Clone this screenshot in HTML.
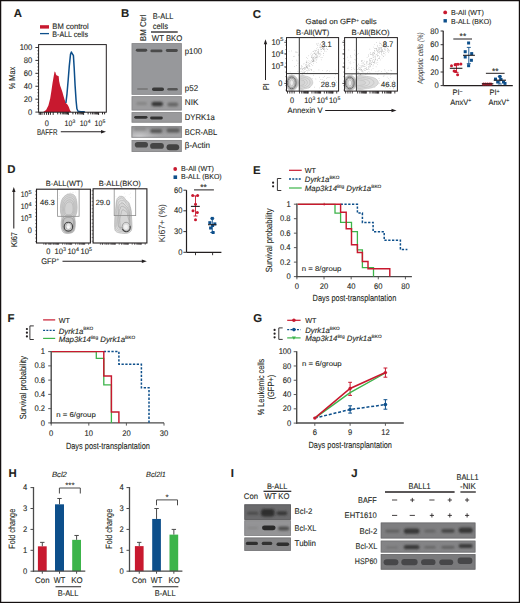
<!DOCTYPE html><html><head><meta charset="utf-8"><title>Figure</title><style>html,body{margin:0;padding:0;background:#fff;width:520px;height:603px;overflow:hidden;}svg{display:block;font-family:"Liberation Sans",sans-serif;}</style></head><body><svg width="520" height="603" viewBox="0 0 520 603" font-family="'Liberation Sans', sans-serif" fill="#231f20"><style>text{stroke:#231f20;stroke-width:0.1px;text-rendering:geometricPrecision;}</style><rect x="0.00" y="0.00" width="520.00" height="1.25" fill="#141010" />
<rect x="0.00" y="0.00" width="1.25" height="603.00" fill="#141010" />
<rect x="518.80" y="0.00" width="1.20" height="603.00" fill="#141010" />
<rect x="0.00" y="601.80" width="520.00" height="1.20" fill="#141010" />
<text x="0" y="0" font-size="11.40" font-weight="bold" transform="translate(13.80,16.70)" stroke="#231f20" stroke-width="0.35">A</text>
<rect x="40.00" y="25.20" width="9.00" height="3.40" fill="#c8192f" />
<line x1="40.00" y1="33.60" x2="49.00" y2="33.60" stroke="#0d4f8b" stroke-width="1.3" />
<text x="0" y="0" font-size="7.88" textLength="39.42" lengthAdjust="spacingAndGlyphs" transform="translate(52.30,29.00) scale(0.926,1)" >BM control</text>
<text x="0" y="0" font-size="7.88" textLength="38.56" lengthAdjust="spacingAndGlyphs" transform="translate(52.30,36.50) scale(0.926,1)" >B-ALL cells</text>
<path d="M43.2,112.1 L46.1,110.0 L48.4,105.4 L50.2,98.4 L51.3,91.4 L52.5,83.3 L53.7,76.3 L54.6,71.5 L55.4,72.3 L56.0,74.6 L56.8,75.4 L57.7,75.8 L58.7,76.3 L59.1,81.0 L60.1,85.6 L61.2,88.5 L62.4,92.0 L63.5,96.1 L64.7,100.1 L65.9,103.0 L67.6,104.8 L68.8,107.1 L69.9,110.0 L71.1,112.1 Z" fill="#c8192f"/>
<path d="M65.9,103.0 L67.0,93.8 L68.2,79.8 L69.3,65.9 L70.5,54.3 L71.4,52.0 L72.2,53.7 L73.4,55.4 L74.2,68.2 L75.1,85.6 L76.1,100.7 L76.9,108.8 L78.0,111.2 L80.9,111.7 L83.8,111.7 L85.0,112.1" fill="none" stroke="#0d4f8b" stroke-width="1.5" stroke-linejoin="round"/>
<rect x="38.60" y="44.60" width="67.70" height="67.60" fill="none" stroke="#231f20" stroke-width="1.0" />
<line x1="35.40" y1="112.10" x2="38.60" y2="112.10" stroke="#231f20" stroke-width="0.9" />
<text x="0" y="0" font-size="8.21" text-anchor="end" transform="translate(32.30,114.70) scale(0.926,1)" >0</text>
<line x1="35.40" y1="99.18" x2="38.60" y2="99.18" stroke="#231f20" stroke-width="0.9" />
<text x="0" y="0" font-size="8.21" text-anchor="end" transform="translate(32.30,101.78) scale(0.926,1)" >20</text>
<line x1="35.40" y1="86.26" x2="38.60" y2="86.26" stroke="#231f20" stroke-width="0.9" />
<text x="0" y="0" font-size="8.21" text-anchor="end" transform="translate(32.30,88.86) scale(0.926,1)" >40</text>
<line x1="35.40" y1="73.34" x2="38.60" y2="73.34" stroke="#231f20" stroke-width="0.9" />
<text x="0" y="0" font-size="8.21" text-anchor="end" transform="translate(32.30,75.94) scale(0.926,1)" >60</text>
<line x1="35.40" y1="60.42" x2="38.60" y2="60.42" stroke="#231f20" stroke-width="0.9" />
<text x="0" y="0" font-size="8.21" text-anchor="end" transform="translate(32.30,63.02) scale(0.926,1)" >80</text>
<line x1="35.40" y1="47.50" x2="38.60" y2="47.50" stroke="#231f20" stroke-width="0.9" />
<text x="0" y="0" font-size="8.21" text-anchor="end" transform="translate(32.30,50.10) scale(0.926,1)" >100</text>
<line x1="37.40" y1="108.87" x2="38.60" y2="108.87" stroke="#231f20" stroke-width="0.7" />
<line x1="37.40" y1="105.64" x2="38.60" y2="105.64" stroke="#231f20" stroke-width="0.7" />
<line x1="37.40" y1="102.41" x2="38.60" y2="102.41" stroke="#231f20" stroke-width="0.7" />
<line x1="37.40" y1="95.95" x2="38.60" y2="95.95" stroke="#231f20" stroke-width="0.7" />
<line x1="37.40" y1="92.72" x2="38.60" y2="92.72" stroke="#231f20" stroke-width="0.7" />
<line x1="37.40" y1="89.49" x2="38.60" y2="89.49" stroke="#231f20" stroke-width="0.7" />
<line x1="37.40" y1="83.03" x2="38.60" y2="83.03" stroke="#231f20" stroke-width="0.7" />
<line x1="37.40" y1="79.80" x2="38.60" y2="79.80" stroke="#231f20" stroke-width="0.7" />
<line x1="37.40" y1="76.57" x2="38.60" y2="76.57" stroke="#231f20" stroke-width="0.7" />
<line x1="37.40" y1="70.11" x2="38.60" y2="70.11" stroke="#231f20" stroke-width="0.7" />
<line x1="37.40" y1="66.88" x2="38.60" y2="66.88" stroke="#231f20" stroke-width="0.7" />
<line x1="37.40" y1="63.65" x2="38.60" y2="63.65" stroke="#231f20" stroke-width="0.7" />
<line x1="37.40" y1="57.19" x2="38.60" y2="57.19" stroke="#231f20" stroke-width="0.7" />
<line x1="37.40" y1="53.96" x2="38.60" y2="53.96" stroke="#231f20" stroke-width="0.7" />
<line x1="37.40" y1="50.73" x2="38.60" y2="50.73" stroke="#231f20" stroke-width="0.7" />
<line x1="39.20" y1="112.10" x2="39.20" y2="114.80" stroke="#231f20" stroke-width="1.0" />
<line x1="40.60" y1="112.10" x2="40.60" y2="114.80" stroke="#231f20" stroke-width="1.0" />
<line x1="42.00" y1="112.10" x2="42.00" y2="114.80" stroke="#231f20" stroke-width="1.0" />
<line x1="44.30" y1="112.10" x2="44.30" y2="114.80" stroke="#231f20" stroke-width="1.0" />
<line x1="46.60" y1="112.10" x2="46.60" y2="114.80" stroke="#231f20" stroke-width="1.0" />
<line x1="48.50" y1="112.10" x2="48.50" y2="114.80" stroke="#231f20" stroke-width="1.0" />
<line x1="50.40" y1="112.10" x2="50.40" y2="114.80" stroke="#231f20" stroke-width="1.0" />
<line x1="53.20" y1="112.10" x2="53.20" y2="114.90" stroke="#231f20" stroke-width="0.95" />
<line x1="57.72" y1="112.10" x2="57.72" y2="114.40" stroke="#231f20" stroke-width="0.95" />
<line x1="60.36" y1="112.10" x2="60.36" y2="114.40" stroke="#231f20" stroke-width="0.95" />
<line x1="62.23" y1="112.10" x2="62.23" y2="114.40" stroke="#231f20" stroke-width="0.95" />
<line x1="63.68" y1="112.10" x2="63.68" y2="114.40" stroke="#231f20" stroke-width="0.95" />
<line x1="64.87" y1="112.10" x2="64.87" y2="114.40" stroke="#231f20" stroke-width="0.95" />
<line x1="65.88" y1="112.10" x2="65.88" y2="114.40" stroke="#231f20" stroke-width="0.95" />
<line x1="66.75" y1="112.10" x2="66.75" y2="114.40" stroke="#231f20" stroke-width="0.95" />
<line x1="67.51" y1="112.10" x2="67.51" y2="114.40" stroke="#231f20" stroke-width="0.95" />
<line x1="68.40" y1="112.10" x2="68.40" y2="114.90" stroke="#231f20" stroke-width="0.95" />
<line x1="72.92" y1="112.10" x2="72.92" y2="114.40" stroke="#231f20" stroke-width="0.95" />
<line x1="75.56" y1="112.10" x2="75.56" y2="114.40" stroke="#231f20" stroke-width="0.95" />
<line x1="77.43" y1="112.10" x2="77.43" y2="114.40" stroke="#231f20" stroke-width="0.95" />
<line x1="78.88" y1="112.10" x2="78.88" y2="114.40" stroke="#231f20" stroke-width="0.95" />
<line x1="80.07" y1="112.10" x2="80.07" y2="114.40" stroke="#231f20" stroke-width="0.95" />
<line x1="81.08" y1="112.10" x2="81.08" y2="114.40" stroke="#231f20" stroke-width="0.95" />
<line x1="81.95" y1="112.10" x2="81.95" y2="114.40" stroke="#231f20" stroke-width="0.95" />
<line x1="82.71" y1="112.10" x2="82.71" y2="114.40" stroke="#231f20" stroke-width="0.95" />
<line x1="83.60" y1="112.10" x2="83.60" y2="114.90" stroke="#231f20" stroke-width="0.95" />
<line x1="88.12" y1="112.10" x2="88.12" y2="114.40" stroke="#231f20" stroke-width="0.95" />
<line x1="90.76" y1="112.10" x2="90.76" y2="114.40" stroke="#231f20" stroke-width="0.95" />
<line x1="92.63" y1="112.10" x2="92.63" y2="114.40" stroke="#231f20" stroke-width="0.95" />
<line x1="94.08" y1="112.10" x2="94.08" y2="114.40" stroke="#231f20" stroke-width="0.95" />
<line x1="95.27" y1="112.10" x2="95.27" y2="114.40" stroke="#231f20" stroke-width="0.95" />
<line x1="96.28" y1="112.10" x2="96.28" y2="114.40" stroke="#231f20" stroke-width="0.95" />
<line x1="97.15" y1="112.10" x2="97.15" y2="114.40" stroke="#231f20" stroke-width="0.95" />
<line x1="97.91" y1="112.10" x2="97.91" y2="114.40" stroke="#231f20" stroke-width="0.95" />
<line x1="98.60" y1="112.10" x2="98.60" y2="114.90" stroke="#231f20" stroke-width="1.0" />
<line x1="102.50" y1="112.10" x2="102.50" y2="114.40" stroke="#231f20" stroke-width="0.95" />
<line x1="104.60" y1="112.10" x2="104.60" y2="114.40" stroke="#231f20" stroke-width="0.95" />
<text x="0" y="0" font-size="7.99" text-anchor="middle" transform="translate(46.70,125.50) scale(0.926,1)" >0</text>
<text x="64.50" y="125.50" font-size="7.9" textLength="7.80" lengthAdjust="spacingAndGlyphs">10</text>
<text x="72.50" y="122.60" font-size="5.0">3</text>
<text x="79.70" y="125.50" font-size="7.9" textLength="7.80" lengthAdjust="spacingAndGlyphs">10</text>
<text x="87.70" y="122.60" font-size="5.0">4</text>
<text x="94.50" y="125.50" font-size="7.9" textLength="7.80" lengthAdjust="spacingAndGlyphs">10</text>
<text x="102.50" y="122.60" font-size="5.0">5</text>
<text x="0" y="0" font-size="8.42" textLength="22.14" lengthAdjust="spacingAndGlyphs" transform="translate(36.90,134.70) scale(0.926,1)" >BAFFR</text>
<line x1="60.80" y1="131.70" x2="103.00" y2="131.70" stroke="#231f20" stroke-width="1.05" />
<path d="M106.00,131.70 L101.00,130.00 L101.00,133.40 Z" fill="#231f20"/>
<text x="0" y="0" font-size="8.64" text-anchor="middle" textLength="24.41" lengthAdjust="spacingAndGlyphs" transform="translate(14.90,78.00) rotate(-90) scale(0.926,1)" >% Max</text>
<text x="0" y="0" font-size="11.40" font-weight="bold" transform="translate(121.00,16.50)" stroke="#231f20" stroke-width="0.35">B</text>
<text x="0" y="0" font-size="8.42" textLength="28.94" lengthAdjust="spacingAndGlyphs" transform="translate(145.60,41.20) rotate(-90) scale(0.926,1)" >BM Ctrl</text>
<text x="0" y="0" font-size="8.21" textLength="22.25" lengthAdjust="spacingAndGlyphs" transform="translate(152.80,19.20) scale(0.926,1)" >B-ALL</text>
<text x="0" y="0" font-size="8.21" textLength="16.42" lengthAdjust="spacingAndGlyphs" transform="translate(152.80,28.80) scale(0.926,1)" >cells</text>
<line x1="151.00" y1="32.00" x2="177.70" y2="32.00" stroke="#231f20" stroke-width="1.3" />
<text x="0" y="0" font-size="8.21" textLength="32.94" lengthAdjust="spacingAndGlyphs" transform="translate(151.80,41.20) scale(0.926,1)" >WT BKO</text>
<defs><filter id="bl" x="-50%" y="-80%" width="200%" height="260%"><feGaussianBlur stdDeviation="0.75"/></filter><filter id="bl2" x="-50%" y="-80%" width="200%" height="260%"><feGaussianBlur stdDeviation="1.0"/></filter><filter id="bl3" x="-20%" y="-40%" width="140%" height="180%"><feGaussianBlur stdDeviation="0.4"/></filter><filter id="bl4" x="-20%" y="-20%" width="140%" height="140%"><feGaussianBlur stdDeviation="2.0"/></filter></defs>
<rect x="131.70" y="43.20" width="50.00" height="51.50" fill="#97989b" />
<rect x="132.10" y="43.60" width="49.20" height="50.70" fill="none" stroke="#8a8a8d" stroke-width="0.8" />
<rect x="135.80" y="48.85" width="11.40" height="2.90" rx="1.45" fill="#464646" opacity="1.0" filter="url(#bl)"/>
<rect x="150.40" y="49.55" width="12.10" height="2.70" rx="1.35" fill="#4c4c4c" opacity="1.0" filter="url(#bl)"/>
<rect x="165.80" y="49.05" width="12.00" height="2.90" rx="1.45" fill="#484848" opacity="1.0" filter="url(#bl)"/>
<rect x="137.00" y="88.10" width="11.00" height="2.00" rx="1.00" fill="#7a7a7a" opacity="0.9" filter="url(#bl)"/>
<rect x="152.00" y="87.55" width="12.00" height="3.50" rx="1.75" fill="#383838" opacity="1.0" filter="url(#bl)"/>
<rect x="167.30" y="88.00" width="10.50" height="2.60" rx="1.30" fill="#555" opacity="1.0" filter="url(#bl)"/>
<rect x="131.70" y="96.30" width="50.00" height="14.10" fill="#9c9c9e" />
<rect x="132.10" y="96.70" width="49.20" height="13.30" fill="none" stroke="#8a8a8c" stroke-width="0.8" />
<rect x="136.30" y="102.00" width="10.70" height="3.00" rx="1.50" fill="#808080" opacity="0.8" filter="url(#bl2)"/>
<rect x="151.50" y="101.70" width="11.50" height="4.60" rx="2.30" fill="#383838" opacity="1.0" filter="url(#bl2)"/>
<rect x="167.40" y="102.60" width="10.90" height="3.80" rx="1.90" fill="#666" opacity="1.0" filter="url(#bl2)"/>
<rect x="131.70" y="112.20" width="50.00" height="10.40" fill="#9a9a9c" />
<rect x="132.10" y="112.60" width="49.20" height="9.60" fill="none" stroke="#8a8a8c" stroke-width="0.8" />
<rect x="134.20" y="115.90" width="13.30" height="2.80" rx="1.40" fill="#333" opacity="1.0" filter="url(#bl)"/>
<rect x="150.10" y="116.60" width="12.70" height="2.80" rx="1.40" fill="#333" opacity="1.0" filter="url(#bl)"/>
<rect x="131.70" y="126.30" width="50.00" height="11.30" fill="#a0a0a2" />
<rect x="132.10" y="126.70" width="49.20" height="10.50" fill="none" stroke="#8e8e90" stroke-width="0.8" />
<defs><radialGradient id="bcrg" cx="0.15" cy="1.0" r="0.55" gradientTransform="translate(0.15 1) scale(1 2.2) translate(-0.15 -1)"><stop offset="0" stop-color="#d4d4d6"/><stop offset="1" stop-color="#a0a0a2" stop-opacity="0"/></radialGradient><linearGradient id="bcrv" x1="0" y1="0" x2="0" y2="1"><stop offset="0" stop-color="#8f8f91"/><stop offset="1" stop-color="#a8a8aa"/></linearGradient></defs>
<rect x="131.70" y="126.30" width="50.00" height="11.30" fill="url(#bcrv)" />
<rect x="131.70" y="126.30" width="50.00" height="11.30" fill="url(#bcrg)" />
<rect x="132.10" y="126.70" width="49.20" height="10.50" fill="none" stroke="#8e8e90" stroke-width="0.8" />
<rect x="134.00" y="127.50" width="12.00" height="3.00" rx="1.50" fill="#808080" opacity="0.7" filter="url(#bl2)"/>
<rect x="150.10" y="129.10" width="12.20" height="3.80" rx="1.90" fill="#585858" opacity="1.0" filter="url(#bl2)"/>
<rect x="166.50" y="128.60" width="13.20" height="3.80" rx="1.90" fill="#5c5c5c" opacity="1.0" filter="url(#bl2)"/>
<rect x="131.70" y="140.00" width="50.00" height="12.00" fill="#9a9a9c" />
<rect x="132.10" y="140.40" width="49.20" height="11.20" fill="none" stroke="#8a8a8c" stroke-width="0.8" />
<rect x="134.80" y="142.00" width="13.20" height="5.60" rx="2.80" fill="#444" opacity="1.0" filter="url(#bl)"/>
<rect x="150.10" y="143.00" width="13.80" height="5.80" rx="2.90" fill="#444" opacity="1.0" filter="url(#bl)"/>
<rect x="166.50" y="144.20" width="12.70" height="6.00" rx="3.00" fill="#424242" opacity="1.0" filter="url(#bl)"/>
<text x="0" y="0" font-size="8.42" textLength="18.68" lengthAdjust="spacingAndGlyphs" transform="translate(184.80,53.70) scale(0.926,1)" >p100</text>
<text x="0" y="0" font-size="8.42" textLength="14.36" lengthAdjust="spacingAndGlyphs" transform="translate(184.80,91.20) scale(0.926,1)" >p52</text>
<text x="0" y="0" font-size="8.42" textLength="14.69" lengthAdjust="spacingAndGlyphs" transform="translate(184.80,105.00) scale(0.926,1)" >NIK</text>
<text x="0" y="0" font-size="8.42" textLength="32.40" lengthAdjust="spacingAndGlyphs" transform="translate(184.80,120.40) scale(0.926,1)" >DYRK1a</text>
<text x="0" y="0" font-size="8.42" textLength="34.88" lengthAdjust="spacingAndGlyphs" transform="translate(184.80,134.50) scale(0.926,1)" >BCR-ABL</text>
<text x="0" y="0" font-size="8.42" textLength="27.22" lengthAdjust="spacingAndGlyphs" transform="translate(184.80,148.10) scale(0.926,1)" >&#946;-Actin</text>
<text x="0" y="0" font-size="11.40" font-weight="bold" transform="translate(252.80,17.50)" stroke="#231f20" stroke-width="0.35">C</text>
<text x="0" y="0" font-size="7.50" textLength="71.10" lengthAdjust="spacingAndGlyphs" transform="translate(305.60,24.00)" >Gated on GFP<tspan font-size="4.4" dy="-2.4">+</tspan><tspan dy="2.4"> cells</tspan></text>
<text x="0" y="0" font-size="7.50" textLength="33.20" lengthAdjust="spacingAndGlyphs" transform="translate(296.10,34.70)" >B-All(WT)</text>
<text x="0" y="0" font-size="7.50" textLength="38.10" lengthAdjust="spacingAndGlyphs" transform="translate(351.50,34.70)" >B-All(BKO)</text>
<g fill="#9c9c9c"><circle cx="308.74" cy="55.87" r="0.33"/><circle cx="311.53" cy="57.67" r="0.33"/><circle cx="313.02" cy="57.05" r="0.33"/><circle cx="313.52" cy="57.30" r="0.33"/><circle cx="316.91" cy="55.04" r="0.33"/><circle cx="308.59" cy="62.86" r="0.33"/><circle cx="304.87" cy="71.36" r="0.33"/><circle cx="299.38" cy="69.92" r="0.33"/><circle cx="326.43" cy="48.81" r="0.33"/><circle cx="315.75" cy="54.66" r="0.33"/><circle cx="308.08" cy="70.14" r="0.33"/><circle cx="303.01" cy="71.80" r="0.33"/><circle cx="306.61" cy="67.04" r="0.33"/><circle cx="313.60" cy="59.55" r="0.33"/><circle cx="313.90" cy="60.88" r="0.33"/><circle cx="314.92" cy="52.87" r="0.33"/><circle cx="312.78" cy="57.20" r="0.33"/><circle cx="306.98" cy="62.73" r="0.33"/><circle cx="327.69" cy="49.29" r="0.33"/><circle cx="318.17" cy="52.82" r="0.33"/><circle cx="309.92" cy="63.42" r="0.33"/><circle cx="304.73" cy="72.57" r="0.33"/><circle cx="316.39" cy="48.83" r="0.33"/><circle cx="313.59" cy="63.15" r="0.33"/><circle cx="323.24" cy="47.00" r="0.33"/><circle cx="307.04" cy="66.36" r="0.33"/><circle cx="316.91" cy="43.42" r="0.33"/><circle cx="312.65" cy="61.82" r="0.33"/><circle cx="300.90" cy="69.06" r="0.33"/><circle cx="306.15" cy="62.44" r="0.33"/><circle cx="301.17" cy="68.38" r="0.33"/><circle cx="323.66" cy="55.47" r="0.33"/><circle cx="304.61" cy="69.44" r="0.33"/><circle cx="303.69" cy="72.37" r="0.33"/><circle cx="321.16" cy="51.70" r="0.33"/><circle cx="315.00" cy="61.51" r="0.33"/><circle cx="306.48" cy="66.90" r="0.33"/><circle cx="315.93" cy="53.60" r="0.33"/><circle cx="303.36" cy="68.45" r="0.33"/><circle cx="309.25" cy="65.13" r="0.33"/><circle cx="323.99" cy="47.14" r="0.33"/><circle cx="320.22" cy="47.31" r="0.33"/><circle cx="304.10" cy="63.76" r="0.33"/><circle cx="319.28" cy="56.59" r="0.33"/><circle cx="305.41" cy="71.22" r="0.33"/><circle cx="308.23" cy="64.84" r="0.33"/><circle cx="318.80" cy="50.66" r="0.33"/><circle cx="304.67" cy="72.31" r="0.33"/><circle cx="302.49" cy="69.33" r="0.33"/><circle cx="315.35" cy="54.94" r="0.33"/><circle cx="306.32" cy="57.55" r="0.33"/><circle cx="314.99" cy="59.84" r="0.33"/><circle cx="316.34" cy="56.96" r="0.33"/><circle cx="304.69" cy="67.39" r="0.33"/><circle cx="322.86" cy="48.64" r="0.33"/><circle cx="305.23" cy="65.87" r="0.33"/><circle cx="320.12" cy="53.18" r="0.33"/><circle cx="322.58" cy="46.74" r="0.33"/><circle cx="320.12" cy="47.32" r="0.33"/><circle cx="302.94" cy="68.86" r="0.33"/><circle cx="303.46" cy="73.69" r="0.33"/><circle cx="317.88" cy="52.70" r="0.33"/><circle cx="309.47" cy="65.97" r="0.33"/><circle cx="306.84" cy="61.84" r="0.33"/><circle cx="306.05" cy="67.38" r="0.33"/><circle cx="306.85" cy="65.20" r="0.33"/><circle cx="316.81" cy="58.03" r="0.33"/><circle cx="306.71" cy="62.40" r="0.33"/><circle cx="322.52" cy="48.00" r="0.33"/><circle cx="308.94" cy="64.89" r="0.33"/><circle cx="313.84" cy="60.59" r="0.33"/><circle cx="311.42" cy="62.11" r="0.33"/><circle cx="316.71" cy="57.39" r="0.33"/><circle cx="323.27" cy="49.70" r="0.33"/><circle cx="321.98" cy="45.02" r="0.33"/><circle cx="313.23" cy="53.83" r="0.33"/><circle cx="305.59" cy="68.97" r="0.33"/><circle cx="322.36" cy="48.14" r="0.33"/><circle cx="318.53" cy="53.42" r="0.33"/><circle cx="316.71" cy="54.60" r="0.33"/><circle cx="313.31" cy="58.46" r="0.33"/><circle cx="322.29" cy="44.54" r="0.33"/><circle cx="300.24" cy="68.34" r="0.33"/><circle cx="321.18" cy="47.52" r="0.33"/><circle cx="317.87" cy="51.33" r="0.33"/><circle cx="319.06" cy="45.09" r="0.33"/><circle cx="308.91" cy="60.76" r="0.33"/><circle cx="317.67" cy="45.65" r="0.33"/><circle cx="313.06" cy="61.24" r="0.33"/><circle cx="311.71" cy="53.02" r="0.33"/><circle cx="314.67" cy="53.31" r="0.33"/><circle cx="317.97" cy="56.88" r="0.33"/><circle cx="299.50" cy="67.38" r="0.33"/><circle cx="316.95" cy="44.68" r="0.33"/><circle cx="316.26" cy="50.30" r="0.33"/><circle cx="317.70" cy="57.85" r="0.33"/><circle cx="313.03" cy="60.13" r="0.33"/><circle cx="318.44" cy="51.27" r="0.33"/><circle cx="299.93" cy="71.32" r="0.33"/><circle cx="306.29" cy="64.62" r="0.33"/><circle cx="315.39" cy="50.81" r="0.33"/><circle cx="322.53" cy="47.88" r="0.33"/><circle cx="309.91" cy="66.42" r="0.33"/><circle cx="317.79" cy="53.74" r="0.33"/><circle cx="308.96" cy="68.40" r="0.33"/><circle cx="321.01" cy="57.30" r="0.33"/><circle cx="313.98" cy="60.89" r="0.33"/><circle cx="316.33" cy="53.00" r="0.33"/><circle cx="303.60" cy="63.98" r="0.33"/><circle cx="323.84" cy="49.27" r="0.33"/><circle cx="319.77" cy="47.10" r="0.33"/><circle cx="311.45" cy="64.69" r="0.33"/><circle cx="301.39" cy="65.58" r="0.33"/><circle cx="321.17" cy="49.59" r="0.33"/><circle cx="319.84" cy="54.12" r="0.33"/><circle cx="305.53" cy="67.28" r="0.33"/><circle cx="312.61" cy="59.30" r="0.33"/><circle cx="313.34" cy="61.63" r="0.33"/><circle cx="314.89" cy="53.47" r="0.33"/><circle cx="320.96" cy="49.80" r="0.33"/><circle cx="322.92" cy="45.78" r="0.33"/><circle cx="302.02" cy="73.00" r="0.33"/><circle cx="324.52" cy="51.51" r="0.33"/><circle cx="316.22" cy="57.03" r="0.33"/><circle cx="309.66" cy="63.51" r="0.33"/><circle cx="304.73" cy="68.49" r="0.33"/><circle cx="316.54" cy="62.51" r="0.33"/><circle cx="308.37" cy="66.04" r="0.33"/><circle cx="307.87" cy="70.92" r="0.33"/><circle cx="313.53" cy="60.29" r="0.33"/><circle cx="314.69" cy="53.12" r="0.33"/><circle cx="320.28" cy="44.42" r="0.33"/><circle cx="318.49" cy="54.08" r="0.33"/><circle cx="308.38" cy="69.21" r="0.33"/><circle cx="297.89" cy="71.20" r="0.33"/><circle cx="306.82" cy="67.84" r="0.33"/><circle cx="306.97" cy="63.02" r="0.33"/><circle cx="316.84" cy="59.79" r="0.33"/><circle cx="316.43" cy="55.29" r="0.33"/><circle cx="318.02" cy="49.18" r="0.33"/><circle cx="326.07" cy="51.52" r="0.33"/><circle cx="320.93" cy="54.60" r="0.33"/><circle cx="302.31" cy="66.74" r="0.33"/><circle cx="323.06" cy="48.76" r="0.33"/><circle cx="307.51" cy="58.34" r="0.33"/><circle cx="318.38" cy="49.30" r="0.33"/><circle cx="320.18" cy="44.89" r="0.33"/><circle cx="307.61" cy="67.11" r="0.33"/><circle cx="319.73" cy="53.57" r="0.33"/><circle cx="315.94" cy="50.47" r="0.33"/><circle cx="311.61" cy="70.13" r="0.33"/><circle cx="320.35" cy="43.73" r="0.33"/><circle cx="315.15" cy="57.59" r="0.33"/><circle cx="320.62" cy="46.64" r="0.33"/><circle cx="320.75" cy="48.94" r="0.33"/><circle cx="313.27" cy="60.32" r="0.33"/><circle cx="315.25" cy="57.09" r="0.33"/><circle cx="299.43" cy="71.00" r="0.33"/><circle cx="323.52" cy="53.25" r="0.33"/><circle cx="307.49" cy="68.76" r="0.33"/><circle cx="310.43" cy="62.90" r="0.33"/><circle cx="304.42" cy="67.47" r="0.33"/><circle cx="313.65" cy="57.21" r="0.33"/><circle cx="314.22" cy="50.17" r="0.33"/><circle cx="318.21" cy="43.13" r="0.33"/><circle cx="303.85" cy="70.77" r="0.33"/><circle cx="305.80" cy="64.66" r="0.33"/><circle cx="318.43" cy="52.16" r="0.33"/><circle cx="313.14" cy="51.39" r="0.33"/><circle cx="314.67" cy="56.15" r="0.33"/><circle cx="306.86" cy="60.95" r="0.33"/><circle cx="324.65" cy="50.52" r="0.33"/><circle cx="310.09" cy="69.08" r="0.33"/><circle cx="310.30" cy="53.96" r="0.33"/><circle cx="316.21" cy="56.92" r="0.33"/><circle cx="316.28" cy="60.09" r="0.33"/><circle cx="321.23" cy="59.86" r="0.33"/><circle cx="315.15" cy="58.53" r="0.33"/><circle cx="312.49" cy="61.53" r="0.33"/><circle cx="311.34" cy="56.35" r="0.33"/><circle cx="320.15" cy="55.25" r="0.33"/><circle cx="312.98" cy="61.33" r="0.33"/><circle cx="324.55" cy="48.18" r="0.33"/><circle cx="312.61" cy="58.26" r="0.33"/><circle cx="301.57" cy="66.27" r="0.33"/><circle cx="323.55" cy="49.56" r="0.33"/><circle cx="312.88" cy="58.34" r="0.33"/><circle cx="317.58" cy="56.15" r="0.33"/><circle cx="324.90" cy="49.74" r="0.33"/><circle cx="303.91" cy="75.35" r="0.33"/><circle cx="307.11" cy="67.26" r="0.33"/><circle cx="312.82" cy="65.60" r="0.33"/><circle cx="309.99" cy="61.52" r="0.33"/><circle cx="318.12" cy="51.80" r="0.33"/><circle cx="303.25" cy="67.98" r="0.33"/><circle cx="306.68" cy="66.70" r="0.33"/><circle cx="312.82" cy="55.87" r="0.33"/><circle cx="312.72" cy="61.13" r="0.33"/><circle cx="315.26" cy="58.02" r="0.33"/><circle cx="317.82" cy="55.77" r="0.33"/><circle cx="313.11" cy="51.38" r="0.33"/><circle cx="315.59" cy="54.69" r="0.33"/><circle cx="321.59" cy="49.63" r="0.33"/><circle cx="323.52" cy="53.19" r="0.33"/><circle cx="321.45" cy="47.66" r="0.33"/><circle cx="324.08" cy="49.13" r="0.33"/><circle cx="311.39" cy="69.67" r="0.33"/><circle cx="305.00" cy="68.84" r="0.33"/><circle cx="307.63" cy="65.30" r="0.33"/><circle cx="302.47" cy="68.88" r="0.33"/><circle cx="317.73" cy="47.28" r="0.33"/><circle cx="306.45" cy="70.56" r="0.33"/><circle cx="311.60" cy="60.66" r="0.33"/><circle cx="306.53" cy="66.38" r="0.33"/><circle cx="322.11" cy="57.30" r="0.33"/><circle cx="301.80" cy="67.17" r="0.33"/><circle cx="314.15" cy="58.13" r="0.33"/><circle cx="315.52" cy="51.46" r="0.33"/><circle cx="307.39" cy="67.78" r="0.33"/><circle cx="302.41" cy="72.88" r="0.33"/><circle cx="312.51" cy="54.65" r="0.33"/><circle cx="305.16" cy="68.24" r="0.33"/><circle cx="307.50" cy="68.12" r="0.33"/><circle cx="327.40" cy="49.32" r="0.33"/><circle cx="323.18" cy="48.18" r="0.33"/><circle cx="323.47" cy="47.46" r="0.33"/><circle cx="313.24" cy="59.32" r="0.33"/><circle cx="311.46" cy="57.55" r="0.33"/><circle cx="311.85" cy="55.70" r="0.33"/><circle cx="302.17" cy="74.67" r="0.33"/><circle cx="325.75" cy="86.06" r="0.33"/><circle cx="306.88" cy="78.45" r="0.33"/><circle cx="327.14" cy="77.50" r="0.33"/><circle cx="307.38" cy="72.82" r="0.33"/><circle cx="318.91" cy="69.90" r="0.33"/><circle cx="332.72" cy="85.23" r="0.33"/><circle cx="325.88" cy="86.38" r="0.33"/><circle cx="323.15" cy="77.49" r="0.33"/><circle cx="322.07" cy="79.43" r="0.33"/><circle cx="335.97" cy="85.29" r="0.33"/><circle cx="309.67" cy="87.37" r="0.33"/><circle cx="327.32" cy="84.77" r="0.33"/><circle cx="329.87" cy="77.51" r="0.33"/><circle cx="332.84" cy="86.76" r="0.33"/><circle cx="325.52" cy="84.56" r="0.33"/><circle cx="328.08" cy="77.51" r="0.33"/><circle cx="326.53" cy="70.98" r="0.33"/><circle cx="312.70" cy="78.74" r="0.33"/><circle cx="300.68" cy="76.53" r="0.33"/><circle cx="323.49" cy="81.77" r="0.33"/><circle cx="308.73" cy="88.02" r="0.33"/><circle cx="324.48" cy="76.19" r="0.33"/><circle cx="324.25" cy="80.71" r="0.33"/><circle cx="319.65" cy="77.20" r="0.33"/><circle cx="336.60" cy="82.12" r="0.33"/><circle cx="325.76" cy="84.45" r="0.33"/><circle cx="335.88" cy="70.04" r="0.33"/><circle cx="322.64" cy="84.01" r="0.33"/><circle cx="309.62" cy="77.43" r="0.33"/><circle cx="302.13" cy="73.41" r="0.33"/><circle cx="313.94" cy="71.52" r="0.33"/><circle cx="309.41" cy="87.26" r="0.33"/><circle cx="320.27" cy="79.50" r="0.33"/><circle cx="335.41" cy="80.68" r="0.33"/><circle cx="336.42" cy="82.04" r="0.33"/><circle cx="329.69" cy="71.09" r="0.33"/><circle cx="321.99" cy="84.41" r="0.33"/><circle cx="301.94" cy="87.74" r="0.33"/><circle cx="306.11" cy="78.80" r="0.33"/><circle cx="306.44" cy="79.26" r="0.33"/><circle cx="322.49" cy="70.74" r="0.33"/><circle cx="334.61" cy="77.80" r="0.33"/><circle cx="319.42" cy="81.26" r="0.33"/><circle cx="313.57" cy="75.17" r="0.33"/><circle cx="324.08" cy="80.53" r="0.33"/><circle cx="310.59" cy="83.57" r="0.33"/><circle cx="311.05" cy="69.87" r="0.33"/><circle cx="309.19" cy="70.43" r="0.33"/><circle cx="305.98" cy="84.32" r="0.33"/><circle cx="314.46" cy="87.10" r="0.33"/><circle cx="327.47" cy="70.58" r="0.33"/><circle cx="336.19" cy="88.02" r="0.33"/><circle cx="302.97" cy="87.26" r="0.33"/><circle cx="315.89" cy="78.91" r="0.33"/><circle cx="335.63" cy="74.35" r="0.33"/><circle cx="319.30" cy="87.88" r="0.33"/><circle cx="326.54" cy="78.73" r="0.33"/><circle cx="302.01" cy="70.02" r="0.33"/><circle cx="296.83" cy="52.48" r="0.33"/><circle cx="297.11" cy="60.99" r="0.33"/><circle cx="291.31" cy="50.90" r="0.33"/><circle cx="295.79" cy="52.71" r="0.33"/><circle cx="294.61" cy="66.30" r="0.33"/><circle cx="294.79" cy="56.15" r="0.33"/><circle cx="296.53" cy="60.09" r="0.33"/><circle cx="299.24" cy="62.87" r="0.33"/><circle cx="302.27" cy="73.42" r="0.33"/><circle cx="298.63" cy="55.56" r="0.33"/><circle cx="290.07" cy="71.92" r="0.33"/><circle cx="299.32" cy="65.22" r="0.33"/><circle cx="293.46" cy="56.39" r="0.33"/><circle cx="297.95" cy="63.72" r="0.33"/><circle cx="296.67" cy="65.43" r="0.33"/><circle cx="298.90" cy="54.35" r="0.33"/><circle cx="291.94" cy="74.09" r="0.33"/><circle cx="301.14" cy="71.57" r="0.33"/><circle cx="289.05" cy="51.12" r="0.33"/><circle cx="292.24" cy="60.23" r="0.33"/><circle cx="297.10" cy="52.16" r="0.33"/><circle cx="295.97" cy="51.41" r="0.33"/></g>
<path d="M299.80,76.40 C300.73,74.23 303.55,75.82 305.38,76.10 C307.20,76.38 309.54,76.97 310.78,78.10 C312.01,79.22 312.91,81.35 312.80,82.85 C312.69,84.35 311.45,86.09 310.10,87.10 C308.75,88.11 306.42,88.57 304.70,88.90 C302.98,89.23 300.62,91.18 299.80,89.10 C298.98,87.02 298.87,78.57 299.80,76.40Z" fill="#dcdcdc" stroke="#b4b4b4" stroke-width="0.45"/>
<path d="M299.70,77.69 C300.44,75.96 302.70,77.22 304.16,77.45 C305.62,77.68 307.49,78.15 308.48,79.05 C309.47,79.95 310.19,81.65 310.10,82.85 C310.01,84.05 309.02,85.44 307.94,86.25 C306.86,87.06 304.99,87.42 303.62,87.69 C302.25,87.96 300.35,89.52 299.70,87.85 C299.05,86.18 298.96,79.42 299.70,77.69Z" fill="none" stroke="#b0b0b0" stroke-width="0.45"/>
<path d="M299.60,78.98 C300.16,77.68 301.85,78.63 302.94,78.80 C304.04,78.97 305.44,79.33 306.19,80.00 C306.93,80.67 307.47,81.95 307.40,82.85 C307.33,83.75 306.59,84.79 305.78,85.40 C304.97,86.00 303.57,86.28 302.54,86.48 C301.51,86.68 300.09,87.85 299.60,86.60 C299.11,85.35 299.04,80.28 299.60,78.98Z" fill="none" stroke="#b0b0b0" stroke-width="0.45"/>
<path d="M299.51,80.14 C299.90,79.23 301.08,79.90 301.85,80.02 C302.62,80.13 303.60,80.38 304.12,80.85 C304.64,81.33 305.02,82.22 304.97,82.85 C304.92,83.48 304.40,84.21 303.84,84.63 C303.27,85.06 302.29,85.25 301.57,85.39 C300.85,85.53 299.85,86.35 299.51,85.47 C299.17,84.60 299.12,81.05 299.51,80.14Z" fill="#d4d4d4" stroke="#b0b0b0" stroke-width="0.45"/>
<clipPath id="cp11"><rect x="286.50" y="37.60" width="52.10" height="53.50"/></clipPath><g clip-path="url(#cp11)">
<ellipse cx="291.70" cy="82.85" rx="6.5" ry="7.8" fill="#d6d6d6" stroke="#a8a8a8" stroke-width="0.45"/>
<ellipse cx="291.70" cy="82.85" rx="5.4" ry="6.8" fill="none" stroke="#8a8a8a" stroke-width="0.5"/>
<ellipse cx="291.70" cy="82.85" rx="4.4" ry="5.9" fill="#c8c8c8" stroke="#606060" stroke-width="0.9"/>
<ellipse cx="291.70" cy="82.85" rx="3.2" ry="4.6" fill="#d8d8d8" stroke="#777" stroke-width="0.55"/>
<ellipse cx="291.70" cy="82.85" rx="1.8" ry="3.0" fill="#ececec" stroke="#999" stroke-width="0.45"/>
</g>
<rect x="286.50" y="37.60" width="52.10" height="53.50" fill="none" stroke="#231f20" stroke-width="1.0" />
<line x1="299.30" y1="37.60" x2="299.30" y2="91.10" stroke="#333" stroke-width="1.0" />
<line x1="286.50" y1="73.60" x2="338.60" y2="73.60" stroke="#333" stroke-width="1.0" />
<line x1="284.30" y1="42.30" x2="286.50" y2="42.30" stroke="#231f20" stroke-width="0.8" />
<line x1="284.30" y1="53.90" x2="286.50" y2="53.90" stroke="#231f20" stroke-width="0.8" />
<line x1="284.30" y1="66.90" x2="286.50" y2="66.90" stroke="#231f20" stroke-width="0.8" />
<line x1="284.30" y1="83.40" x2="286.50" y2="83.40" stroke="#231f20" stroke-width="0.8" />
<line x1="285.30" y1="40.60" x2="286.50" y2="40.60" stroke="#231f20" stroke-width="0.5" />
<line x1="285.30" y1="45.10" x2="286.50" y2="45.10" stroke="#231f20" stroke-width="0.5" />
<line x1="285.30" y1="49.60" x2="286.50" y2="49.60" stroke="#231f20" stroke-width="0.5" />
<line x1="285.30" y1="54.10" x2="286.50" y2="54.10" stroke="#231f20" stroke-width="0.5" />
<line x1="285.30" y1="58.60" x2="286.50" y2="58.60" stroke="#231f20" stroke-width="0.5" />
<line x1="285.30" y1="63.10" x2="286.50" y2="63.10" stroke="#231f20" stroke-width="0.5" />
<line x1="285.30" y1="67.60" x2="286.50" y2="67.60" stroke="#231f20" stroke-width="0.5" />
<line x1="285.30" y1="72.10" x2="286.50" y2="72.10" stroke="#231f20" stroke-width="0.5" />
<line x1="285.30" y1="76.60" x2="286.50" y2="76.60" stroke="#231f20" stroke-width="0.5" />
<line x1="285.30" y1="81.10" x2="286.50" y2="81.10" stroke="#231f20" stroke-width="0.5" />
<line x1="285.30" y1="85.60" x2="286.50" y2="85.60" stroke="#231f20" stroke-width="0.5" />
<line x1="285.30" y1="90.10" x2="286.50" y2="90.10" stroke="#231f20" stroke-width="0.5" />
<line x1="287.50" y1="91.10" x2="287.50" y2="93.50" stroke="#231f20" stroke-width="0.85" />
<line x1="289.80" y1="91.10" x2="289.80" y2="93.50" stroke="#231f20" stroke-width="0.85" />
<line x1="292.00" y1="91.10" x2="292.00" y2="93.50" stroke="#231f20" stroke-width="0.85" />
<line x1="294.20" y1="91.10" x2="294.20" y2="93.50" stroke="#231f20" stroke-width="0.85" />
<line x1="299.53" y1="91.10" x2="299.53" y2="93.50" stroke="#231f20" stroke-width="0.85" />
<line x1="301.72" y1="91.10" x2="301.72" y2="93.50" stroke="#231f20" stroke-width="0.85" />
<line x1="303.27" y1="91.10" x2="303.27" y2="93.50" stroke="#231f20" stroke-width="0.85" />
<line x1="304.47" y1="91.10" x2="304.47" y2="93.50" stroke="#231f20" stroke-width="0.85" />
<line x1="305.45" y1="91.10" x2="305.45" y2="93.50" stroke="#231f20" stroke-width="0.85" />
<line x1="306.28" y1="91.10" x2="306.28" y2="93.50" stroke="#231f20" stroke-width="0.85" />
<line x1="307.00" y1="91.10" x2="307.00" y2="93.50" stroke="#231f20" stroke-width="0.85" />
<line x1="307.63" y1="91.10" x2="307.63" y2="93.50" stroke="#231f20" stroke-width="0.85" />
<line x1="308.20" y1="91.10" x2="308.20" y2="93.50" stroke="#231f20" stroke-width="0.85" />
<line x1="311.93" y1="91.10" x2="311.93" y2="93.50" stroke="#231f20" stroke-width="0.85" />
<line x1="314.12" y1="91.10" x2="314.12" y2="93.50" stroke="#231f20" stroke-width="0.85" />
<line x1="315.67" y1="91.10" x2="315.67" y2="93.50" stroke="#231f20" stroke-width="0.85" />
<line x1="316.87" y1="91.10" x2="316.87" y2="93.50" stroke="#231f20" stroke-width="0.85" />
<line x1="317.85" y1="91.10" x2="317.85" y2="93.50" stroke="#231f20" stroke-width="0.85" />
<line x1="318.68" y1="91.10" x2="318.68" y2="93.50" stroke="#231f20" stroke-width="0.85" />
<line x1="319.40" y1="91.10" x2="319.40" y2="93.50" stroke="#231f20" stroke-width="0.85" />
<line x1="320.03" y1="91.10" x2="320.03" y2="93.50" stroke="#231f20" stroke-width="0.85" />
<line x1="320.60" y1="91.10" x2="320.60" y2="93.50" stroke="#231f20" stroke-width="0.85" />
<line x1="324.33" y1="91.10" x2="324.33" y2="93.50" stroke="#231f20" stroke-width="0.85" />
<line x1="326.52" y1="91.10" x2="326.52" y2="93.50" stroke="#231f20" stroke-width="0.85" />
<line x1="328.07" y1="91.10" x2="328.07" y2="93.50" stroke="#231f20" stroke-width="0.85" />
<line x1="329.27" y1="91.10" x2="329.27" y2="93.50" stroke="#231f20" stroke-width="0.85" />
<line x1="330.25" y1="91.10" x2="330.25" y2="93.50" stroke="#231f20" stroke-width="0.85" />
<line x1="331.08" y1="91.10" x2="331.08" y2="93.50" stroke="#231f20" stroke-width="0.85" />
<line x1="331.80" y1="91.10" x2="331.80" y2="93.50" stroke="#231f20" stroke-width="0.85" />
<line x1="332.43" y1="91.10" x2="332.43" y2="93.50" stroke="#231f20" stroke-width="0.85" />
<line x1="333.00" y1="91.10" x2="333.00" y2="93.50" stroke="#231f20" stroke-width="0.85" />
<line x1="336.73" y1="91.10" x2="336.73" y2="93.50" stroke="#231f20" stroke-width="0.85" />
<g fill="#9c9c9c"><circle cx="388.74" cy="52.43" r="0.33"/><circle cx="359.38" cy="69.28" r="0.33"/><circle cx="372.60" cy="53.31" r="0.33"/><circle cx="364.34" cy="70.48" r="0.33"/><circle cx="362.98" cy="65.55" r="0.33"/><circle cx="372.75" cy="60.02" r="0.33"/><circle cx="362.48" cy="76.47" r="0.33"/><circle cx="373.40" cy="62.27" r="0.33"/><circle cx="373.32" cy="57.71" r="0.33"/><circle cx="357.68" cy="69.67" r="0.33"/><circle cx="376.75" cy="48.21" r="0.33"/><circle cx="374.15" cy="53.31" r="0.33"/><circle cx="381.38" cy="44.10" r="0.33"/><circle cx="373.29" cy="64.84" r="0.33"/><circle cx="373.80" cy="55.29" r="0.33"/><circle cx="359.28" cy="69.04" r="0.33"/><circle cx="371.87" cy="58.32" r="0.33"/><circle cx="368.37" cy="56.60" r="0.33"/><circle cx="377.47" cy="55.20" r="0.33"/><circle cx="370.13" cy="64.46" r="0.33"/><circle cx="381.30" cy="50.71" r="0.33"/><circle cx="362.98" cy="71.37" r="0.33"/><circle cx="358.89" cy="72.17" r="0.33"/><circle cx="384.44" cy="53.22" r="0.33"/><circle cx="367.27" cy="61.60" r="0.33"/><circle cx="369.70" cy="65.08" r="0.33"/><circle cx="377.98" cy="49.53" r="0.33"/><circle cx="361.39" cy="69.43" r="0.33"/><circle cx="378.76" cy="49.93" r="0.33"/><circle cx="361.27" cy="61.43" r="0.33"/><circle cx="377.55" cy="59.80" r="0.33"/><circle cx="382.02" cy="45.73" r="0.33"/><circle cx="364.91" cy="68.70" r="0.33"/><circle cx="370.95" cy="60.39" r="0.33"/><circle cx="360.27" cy="74.68" r="0.33"/><circle cx="380.59" cy="43.29" r="0.33"/><circle cx="383.79" cy="53.35" r="0.33"/><circle cx="383.68" cy="45.35" r="0.33"/><circle cx="375.15" cy="48.35" r="0.33"/><circle cx="376.06" cy="66.82" r="0.33"/><circle cx="367.50" cy="69.39" r="0.33"/><circle cx="366.30" cy="68.16" r="0.33"/><circle cx="385.32" cy="49.09" r="0.33"/><circle cx="361.32" cy="69.61" r="0.33"/><circle cx="375.62" cy="58.91" r="0.33"/><circle cx="383.74" cy="52.97" r="0.33"/><circle cx="361.48" cy="60.77" r="0.33"/><circle cx="374.57" cy="62.11" r="0.33"/><circle cx="372.98" cy="65.92" r="0.33"/><circle cx="379.56" cy="45.76" r="0.33"/><circle cx="374.32" cy="50.39" r="0.33"/><circle cx="383.34" cy="51.87" r="0.33"/><circle cx="376.87" cy="54.80" r="0.33"/><circle cx="373.17" cy="62.65" r="0.33"/><circle cx="376.64" cy="48.62" r="0.33"/><circle cx="379.90" cy="49.03" r="0.33"/><circle cx="360.42" cy="68.50" r="0.33"/><circle cx="372.96" cy="55.16" r="0.33"/><circle cx="381.37" cy="49.92" r="0.33"/><circle cx="367.65" cy="76.79" r="0.33"/><circle cx="372.90" cy="54.98" r="0.33"/><circle cx="374.26" cy="56.22" r="0.33"/><circle cx="368.42" cy="55.50" r="0.33"/><circle cx="359.07" cy="75.62" r="0.33"/><circle cx="370.38" cy="61.89" r="0.33"/><circle cx="380.57" cy="47.84" r="0.33"/><circle cx="364.43" cy="66.13" r="0.33"/><circle cx="370.44" cy="58.30" r="0.33"/><circle cx="374.90" cy="63.50" r="0.33"/><circle cx="374.81" cy="60.57" r="0.33"/><circle cx="374.55" cy="50.53" r="0.33"/><circle cx="373.07" cy="56.85" r="0.33"/><circle cx="368.80" cy="64.67" r="0.33"/><circle cx="381.56" cy="48.29" r="0.33"/><circle cx="377.27" cy="45.14" r="0.33"/><circle cx="377.58" cy="53.87" r="0.33"/><circle cx="375.25" cy="55.00" r="0.33"/><circle cx="371.59" cy="64.37" r="0.33"/><circle cx="370.38" cy="65.81" r="0.33"/><circle cx="369.71" cy="60.77" r="0.33"/><circle cx="372.43" cy="61.51" r="0.33"/><circle cx="371.79" cy="54.41" r="0.33"/><circle cx="366.46" cy="64.96" r="0.33"/><circle cx="366.69" cy="67.30" r="0.33"/><circle cx="368.82" cy="66.54" r="0.33"/><circle cx="359.58" cy="67.65" r="0.33"/><circle cx="374.83" cy="61.44" r="0.33"/><circle cx="374.17" cy="61.89" r="0.33"/><circle cx="381.52" cy="49.05" r="0.33"/><circle cx="371.69" cy="69.93" r="0.33"/><circle cx="384.09" cy="45.94" r="0.33"/><circle cx="380.06" cy="50.02" r="0.33"/><circle cx="366.26" cy="63.67" r="0.33"/><circle cx="382.51" cy="50.81" r="0.33"/><circle cx="361.23" cy="70.42" r="0.33"/><circle cx="374.96" cy="51.32" r="0.33"/><circle cx="373.03" cy="68.59" r="0.33"/><circle cx="379.90" cy="56.73" r="0.33"/><circle cx="369.96" cy="72.93" r="0.33"/><circle cx="363.59" cy="66.64" r="0.33"/><circle cx="357.43" cy="72.60" r="0.33"/><circle cx="377.95" cy="51.54" r="0.33"/><circle cx="371.57" cy="58.31" r="0.33"/><circle cx="376.42" cy="48.48" r="0.33"/><circle cx="378.10" cy="47.69" r="0.33"/><circle cx="366.51" cy="61.14" r="0.33"/><circle cx="367.38" cy="72.89" r="0.33"/><circle cx="368.12" cy="69.19" r="0.33"/><circle cx="369.83" cy="58.91" r="0.33"/><circle cx="377.52" cy="60.35" r="0.33"/><circle cx="379.49" cy="47.25" r="0.33"/><circle cx="377.98" cy="55.23" r="0.33"/><circle cx="381.29" cy="53.85" r="0.33"/><circle cx="381.41" cy="47.73" r="0.33"/><circle cx="386.00" cy="47.65" r="0.33"/><circle cx="369.97" cy="61.38" r="0.33"/><circle cx="380.26" cy="51.66" r="0.33"/><circle cx="369.86" cy="60.52" r="0.33"/><circle cx="378.89" cy="52.70" r="0.33"/><circle cx="362.00" cy="63.63" r="0.33"/><circle cx="373.04" cy="62.68" r="0.33"/><circle cx="372.23" cy="60.94" r="0.33"/><circle cx="378.65" cy="48.11" r="0.33"/><circle cx="364.90" cy="64.13" r="0.33"/><circle cx="366.96" cy="62.15" r="0.33"/><circle cx="361.61" cy="65.49" r="0.33"/><circle cx="374.70" cy="44.74" r="0.33"/><circle cx="370.93" cy="54.50" r="0.33"/><circle cx="372.98" cy="52.20" r="0.33"/><circle cx="384.82" cy="49.29" r="0.33"/><circle cx="383.07" cy="45.11" r="0.33"/><circle cx="357.98" cy="69.56" r="0.33"/><circle cx="379.35" cy="47.96" r="0.33"/><circle cx="361.87" cy="73.33" r="0.33"/><circle cx="353.59" cy="67.96" r="0.33"/><circle cx="383.75" cy="56.18" r="0.33"/><circle cx="377.30" cy="52.02" r="0.33"/><circle cx="362.17" cy="66.24" r="0.33"/><circle cx="379.11" cy="58.47" r="0.33"/><circle cx="375.02" cy="59.09" r="0.33"/><circle cx="375.05" cy="57.78" r="0.33"/><circle cx="373.27" cy="59.58" r="0.33"/><circle cx="361.84" cy="67.37" r="0.33"/><circle cx="374.44" cy="53.57" r="0.33"/><circle cx="376.72" cy="49.65" r="0.33"/><circle cx="362.87" cy="65.15" r="0.33"/><circle cx="371.36" cy="64.28" r="0.33"/><circle cx="367.20" cy="64.01" r="0.33"/><circle cx="368.50" cy="54.47" r="0.33"/><circle cx="366.44" cy="62.77" r="0.33"/><circle cx="388.90" cy="50.96" r="0.33"/><circle cx="375.66" cy="57.01" r="0.33"/><circle cx="385.16" cy="50.35" r="0.33"/><circle cx="387.21" cy="50.16" r="0.33"/><circle cx="381.99" cy="57.98" r="0.33"/><circle cx="388.27" cy="50.12" r="0.33"/><circle cx="362.66" cy="70.29" r="0.33"/><circle cx="360.14" cy="70.09" r="0.33"/><circle cx="379.11" cy="49.72" r="0.33"/><circle cx="369.86" cy="49.08" r="0.33"/><circle cx="373.06" cy="57.53" r="0.33"/><circle cx="388.32" cy="49.20" r="0.33"/><circle cx="378.14" cy="55.58" r="0.33"/><circle cx="377.71" cy="51.19" r="0.33"/><circle cx="383.41" cy="56.28" r="0.33"/><circle cx="366.43" cy="69.49" r="0.33"/><circle cx="369.23" cy="69.50" r="0.33"/><circle cx="364.69" cy="70.04" r="0.33"/><circle cx="389.38" cy="50.82" r="0.33"/><circle cx="379.54" cy="51.70" r="0.33"/><circle cx="370.64" cy="52.68" r="0.33"/><circle cx="374.51" cy="52.91" r="0.33"/><circle cx="363.84" cy="69.48" r="0.33"/><circle cx="372.93" cy="53.98" r="0.33"/><circle cx="375.87" cy="59.92" r="0.33"/><circle cx="380.13" cy="48.06" r="0.33"/><circle cx="359.27" cy="69.31" r="0.33"/><circle cx="379.60" cy="58.45" r="0.33"/><circle cx="382.51" cy="51.04" r="0.33"/><circle cx="385.09" cy="54.89" r="0.33"/><circle cx="365.50" cy="70.70" r="0.33"/><circle cx="387.21" cy="48.95" r="0.33"/><circle cx="373.19" cy="52.81" r="0.33"/><circle cx="382.11" cy="51.70" r="0.33"/><circle cx="370.29" cy="54.62" r="0.33"/><circle cx="382.66" cy="46.86" r="0.33"/><circle cx="381.63" cy="51.68" r="0.33"/><circle cx="373.95" cy="54.10" r="0.33"/><circle cx="379.70" cy="49.01" r="0.33"/><circle cx="376.59" cy="42.32" r="0.33"/><circle cx="360.18" cy="67.05" r="0.33"/><circle cx="365.04" cy="66.58" r="0.33"/><circle cx="377.87" cy="62.22" r="0.33"/><circle cx="361.27" cy="69.86" r="0.33"/><circle cx="362.60" cy="62.04" r="0.33"/><circle cx="376.32" cy="62.90" r="0.33"/><circle cx="361.82" cy="66.49" r="0.33"/><circle cx="358.80" cy="72.13" r="0.33"/><circle cx="380.22" cy="59.89" r="0.33"/><circle cx="378.73" cy="52.03" r="0.33"/><circle cx="359.98" cy="65.31" r="0.33"/><circle cx="378.09" cy="50.44" r="0.33"/><circle cx="377.73" cy="64.75" r="0.33"/><circle cx="368.99" cy="66.59" r="0.33"/><circle cx="374.48" cy="48.24" r="0.33"/><circle cx="370.03" cy="63.62" r="0.33"/><circle cx="358.73" cy="68.11" r="0.33"/><circle cx="381.67" cy="52.06" r="0.33"/><circle cx="369.45" cy="59.72" r="0.33"/><circle cx="376.65" cy="50.38" r="0.33"/><circle cx="368.95" cy="71.79" r="0.33"/><circle cx="354.34" cy="69.51" r="0.33"/><circle cx="382.55" cy="49.94" r="0.33"/><circle cx="357.89" cy="66.48" r="0.33"/><circle cx="379.44" cy="52.79" r="0.33"/><circle cx="380.44" cy="43.59" r="0.33"/><circle cx="379.72" cy="43.67" r="0.33"/><circle cx="358.67" cy="64.73" r="0.33"/><circle cx="364.66" cy="61.06" r="0.33"/><circle cx="383.34" cy="46.56" r="0.33"/><circle cx="373.89" cy="52.39" r="0.33"/><circle cx="381.19" cy="45.01" r="0.33"/><circle cx="370.43" cy="60.74" r="0.33"/><circle cx="367.08" cy="57.73" r="0.33"/><circle cx="369.24" cy="62.88" r="0.33"/><circle cx="369.26" cy="63.05" r="0.33"/><circle cx="370.66" cy="66.16" r="0.33"/><circle cx="370.86" cy="63.66" r="0.33"/><circle cx="384.11" cy="48.38" r="0.33"/><circle cx="377.65" cy="46.19" r="0.33"/><circle cx="369.97" cy="66.95" r="0.33"/><circle cx="368.31" cy="68.13" r="0.33"/><circle cx="379.65" cy="42.00" r="0.33"/><circle cx="368.94" cy="67.64" r="0.33"/><circle cx="358.66" cy="67.96" r="0.33"/><circle cx="363.71" cy="62.54" r="0.33"/><circle cx="387.43" cy="51.22" r="0.33"/><circle cx="383.90" cy="45.83" r="0.33"/><circle cx="387.24" cy="48.65" r="0.33"/><circle cx="382.74" cy="55.06" r="0.33"/><circle cx="377.10" cy="50.80" r="0.33"/><circle cx="378.31" cy="58.44" r="0.33"/><circle cx="384.12" cy="51.66" r="0.33"/><circle cx="369.18" cy="64.10" r="0.33"/><circle cx="381.01" cy="51.53" r="0.33"/><circle cx="362.95" cy="70.24" r="0.33"/><circle cx="357.36" cy="65.35" r="0.33"/><circle cx="371.60" cy="64.08" r="0.33"/><circle cx="360.64" cy="69.18" r="0.33"/><circle cx="372.91" cy="54.56" r="0.33"/><circle cx="375.05" cy="48.32" r="0.33"/><circle cx="377.42" cy="56.20" r="0.33"/><circle cx="382.13" cy="49.86" r="0.33"/><circle cx="373.45" cy="46.99" r="0.33"/><circle cx="362.79" cy="60.31" r="0.33"/><circle cx="380.00" cy="50.96" r="0.33"/><circle cx="381.65" cy="54.81" r="0.33"/><circle cx="370.08" cy="53.54" r="0.33"/><circle cx="379.69" cy="57.20" r="0.33"/><circle cx="379.62" cy="53.21" r="0.33"/><circle cx="384.76" cy="49.47" r="0.33"/><circle cx="363.54" cy="63.87" r="0.33"/><circle cx="381.47" cy="47.83" r="0.33"/><circle cx="357.93" cy="71.43" r="0.33"/><circle cx="381.12" cy="47.85" r="0.33"/><circle cx="384.17" cy="45.71" r="0.33"/><circle cx="375.69" cy="56.22" r="0.33"/><circle cx="361.79" cy="60.89" r="0.33"/><circle cx="375.56" cy="59.18" r="0.33"/><circle cx="374.85" cy="62.86" r="0.33"/><circle cx="381.62" cy="52.13" r="0.33"/><circle cx="371.53" cy="62.38" r="0.33"/><circle cx="351.80" cy="69.64" r="0.33"/><circle cx="385.83" cy="52.46" r="0.33"/><circle cx="365.35" cy="68.31" r="0.33"/><circle cx="364.52" cy="64.16" r="0.33"/><circle cx="376.16" cy="54.28" r="0.33"/><circle cx="363.00" cy="72.28" r="0.33"/><circle cx="366.40" cy="69.42" r="0.33"/><circle cx="365.15" cy="77.35" r="0.33"/><circle cx="377.93" cy="73.90" r="0.33"/><circle cx="384.77" cy="69.86" r="0.33"/><circle cx="371.51" cy="84.04" r="0.33"/><circle cx="358.38" cy="77.74" r="0.33"/><circle cx="369.79" cy="79.14" r="0.33"/><circle cx="381.29" cy="71.34" r="0.33"/><circle cx="390.31" cy="75.01" r="0.33"/><circle cx="386.74" cy="72.37" r="0.33"/><circle cx="360.97" cy="73.54" r="0.33"/><circle cx="360.59" cy="74.58" r="0.33"/><circle cx="362.70" cy="71.47" r="0.33"/><circle cx="389.77" cy="80.00" r="0.33"/><circle cx="376.27" cy="79.61" r="0.33"/><circle cx="388.20" cy="70.69" r="0.33"/><circle cx="359.12" cy="82.66" r="0.33"/><circle cx="357.67" cy="79.56" r="0.33"/><circle cx="381.15" cy="86.20" r="0.33"/><circle cx="357.43" cy="77.56" r="0.33"/><circle cx="369.29" cy="81.00" r="0.33"/><circle cx="358.65" cy="84.35" r="0.33"/><circle cx="393.77" cy="80.39" r="0.33"/><circle cx="382.72" cy="85.92" r="0.33"/><circle cx="389.46" cy="85.61" r="0.33"/><circle cx="375.91" cy="71.49" r="0.33"/><circle cx="387.59" cy="86.08" r="0.33"/><circle cx="384.04" cy="75.87" r="0.33"/><circle cx="394.45" cy="81.82" r="0.33"/><circle cx="369.27" cy="84.97" r="0.33"/><circle cx="365.92" cy="74.45" r="0.33"/><circle cx="391.80" cy="70.87" r="0.33"/><circle cx="390.45" cy="77.46" r="0.33"/><circle cx="379.14" cy="83.14" r="0.33"/><circle cx="391.70" cy="74.04" r="0.33"/><circle cx="360.93" cy="79.68" r="0.33"/><circle cx="365.92" cy="77.99" r="0.33"/><circle cx="361.59" cy="71.54" r="0.33"/><circle cx="378.96" cy="70.80" r="0.33"/><circle cx="367.53" cy="77.29" r="0.33"/><circle cx="361.01" cy="85.35" r="0.33"/><circle cx="391.66" cy="70.42" r="0.33"/><circle cx="388.06" cy="73.19" r="0.33"/><circle cx="385.12" cy="70.97" r="0.33"/><circle cx="385.73" cy="87.80" r="0.33"/><circle cx="367.24" cy="72.99" r="0.33"/><circle cx="370.34" cy="86.39" r="0.33"/><circle cx="387.05" cy="72.82" r="0.33"/><circle cx="391.67" cy="84.07" r="0.33"/><circle cx="393.77" cy="88.57" r="0.33"/><circle cx="363.42" cy="83.84" r="0.33"/><circle cx="358.33" cy="73.50" r="0.33"/><circle cx="377.79" cy="74.30" r="0.33"/><circle cx="365.69" cy="76.70" r="0.33"/><circle cx="374.86" cy="87.51" r="0.33"/><circle cx="379.49" cy="80.53" r="0.33"/><circle cx="384.73" cy="73.44" r="0.33"/><circle cx="387.93" cy="84.52" r="0.33"/><circle cx="388.34" cy="78.49" r="0.33"/><circle cx="377.99" cy="71.24" r="0.33"/><circle cx="374.82" cy="82.22" r="0.33"/><circle cx="393.50" cy="87.10" r="0.33"/><circle cx="370.29" cy="84.40" r="0.33"/><circle cx="389.93" cy="88.35" r="0.33"/><circle cx="383.26" cy="76.16" r="0.33"/><circle cx="390.60" cy="70.11" r="0.33"/><circle cx="378.97" cy="78.64" r="0.33"/><circle cx="390.94" cy="81.79" r="0.33"/><circle cx="365.02" cy="72.99" r="0.33"/><circle cx="358.77" cy="84.32" r="0.33"/><circle cx="387.16" cy="77.01" r="0.33"/><circle cx="365.90" cy="80.56" r="0.33"/><circle cx="349.10" cy="62.87" r="0.33"/><circle cx="351.00" cy="57.64" r="0.33"/><circle cx="355.45" cy="55.87" r="0.33"/><circle cx="350.84" cy="63.81" r="0.33"/><circle cx="358.66" cy="53.38" r="0.33"/><circle cx="350.52" cy="56.47" r="0.33"/><circle cx="350.63" cy="61.89" r="0.33"/><circle cx="357.10" cy="54.17" r="0.33"/><circle cx="355.80" cy="60.49" r="0.33"/><circle cx="353.92" cy="62.27" r="0.33"/><circle cx="354.32" cy="54.12" r="0.33"/><circle cx="354.49" cy="59.73" r="0.33"/><circle cx="356.64" cy="64.61" r="0.33"/><circle cx="351.82" cy="74.47" r="0.33"/><circle cx="348.89" cy="49.95" r="0.33"/><circle cx="348.18" cy="66.98" r="0.33"/><circle cx="347.78" cy="68.13" r="0.33"/><circle cx="347.73" cy="57.09" r="0.33"/><circle cx="354.57" cy="50.12" r="0.33"/><circle cx="352.14" cy="74.78" r="0.33"/><circle cx="355.92" cy="59.41" r="0.33"/><circle cx="358.23" cy="63.94" r="0.33"/><circle cx="356.98" cy="58.26" r="0.33"/><circle cx="351.48" cy="67.25" r="0.33"/><circle cx="356.34" cy="67.05" r="0.33"/><circle cx="348.52" cy="60.22" r="0.33"/><circle cx="350.67" cy="55.43" r="0.33"/><circle cx="348.09" cy="68.46" r="0.33"/></g>
<path d="M356.90,76.60 C358.47,74.47 363.27,76.02 366.30,76.30 C369.33,76.58 373.08,77.19 375.10,78.30 C377.12,79.41 378.58,81.48 378.40,82.95 C378.22,84.42 376.20,86.11 374.00,87.10 C371.80,88.09 368.05,88.57 365.20,88.90 C362.35,89.23 358.28,91.15 356.90,89.10 C355.52,87.05 355.33,78.73 356.90,76.60Z" fill="#dcdcdc" stroke="#b4b4b4" stroke-width="0.45"/>
<path d="M356.80,77.87 C358.05,76.16 361.89,77.40 364.32,77.63 C366.75,77.86 369.75,78.34 371.36,79.23 C372.97,80.12 374.15,81.78 374.00,82.95 C373.85,84.12 372.24,85.48 370.48,86.27 C368.72,87.06 365.72,87.44 363.44,87.71 C361.16,87.98 357.91,89.51 356.80,87.87 C355.69,86.23 355.55,79.58 356.80,77.87Z" fill="none" stroke="#b0b0b0" stroke-width="0.45"/>
<path d="M356.70,79.14 C357.64,77.86 360.52,78.79 362.34,78.96 C364.16,79.13 366.41,79.50 367.62,80.16 C368.83,80.82 369.71,82.07 369.60,82.95 C369.49,83.83 368.28,84.84 366.96,85.44 C365.64,86.03 363.39,86.32 361.68,86.52 C359.97,86.72 357.53,87.87 356.70,86.64 C355.87,85.41 355.76,80.42 356.70,79.14Z" fill="none" stroke="#b0b0b0" stroke-width="0.45"/>
<path d="M356.61,80.28 C357.27,79.39 359.28,80.04 360.56,80.16 C361.83,80.28 363.41,80.53 364.25,81.00 C365.10,81.46 365.72,82.33 365.64,82.95 C365.56,83.57 364.72,84.28 363.79,84.69 C362.87,85.11 361.29,85.31 360.10,85.45 C358.90,85.59 357.19,86.39 356.61,85.53 C356.03,84.67 355.95,81.18 356.61,80.28Z" fill="#d4d4d4" stroke="#b0b0b0" stroke-width="0.45"/>
<clipPath id="cp23"><rect x="344.60" y="37.60" width="52.80" height="53.50"/></clipPath><g clip-path="url(#cp23)">
<ellipse cx="349.80" cy="82.95" rx="6.5" ry="7.8" fill="#d6d6d6" stroke="#a8a8a8" stroke-width="0.45"/>
<ellipse cx="349.80" cy="82.95" rx="5.4" ry="6.8" fill="none" stroke="#8a8a8a" stroke-width="0.5"/>
<ellipse cx="349.80" cy="82.95" rx="4.4" ry="5.9" fill="#c8c8c8" stroke="#606060" stroke-width="0.9"/>
<ellipse cx="349.80" cy="82.95" rx="3.2" ry="4.6" fill="#d8d8d8" stroke="#777" stroke-width="0.55"/>
<ellipse cx="349.80" cy="82.95" rx="1.8" ry="3.0" fill="#ececec" stroke="#999" stroke-width="0.45"/>
</g>
<rect x="344.60" y="37.60" width="52.80" height="53.50" fill="none" stroke="#231f20" stroke-width="1.0" />
<line x1="356.40" y1="37.60" x2="356.40" y2="91.10" stroke="#333" stroke-width="1.0" />
<line x1="344.60" y1="73.80" x2="397.40" y2="73.80" stroke="#333" stroke-width="1.0" />
<line x1="342.40" y1="42.30" x2="344.60" y2="42.30" stroke="#231f20" stroke-width="0.8" />
<line x1="342.40" y1="53.90" x2="344.60" y2="53.90" stroke="#231f20" stroke-width="0.8" />
<line x1="342.40" y1="66.90" x2="344.60" y2="66.90" stroke="#231f20" stroke-width="0.8" />
<line x1="342.40" y1="83.40" x2="344.60" y2="83.40" stroke="#231f20" stroke-width="0.8" />
<line x1="343.40" y1="40.60" x2="344.60" y2="40.60" stroke="#231f20" stroke-width="0.5" />
<line x1="343.40" y1="45.10" x2="344.60" y2="45.10" stroke="#231f20" stroke-width="0.5" />
<line x1="343.40" y1="49.60" x2="344.60" y2="49.60" stroke="#231f20" stroke-width="0.5" />
<line x1="343.40" y1="54.10" x2="344.60" y2="54.10" stroke="#231f20" stroke-width="0.5" />
<line x1="343.40" y1="58.60" x2="344.60" y2="58.60" stroke="#231f20" stroke-width="0.5" />
<line x1="343.40" y1="63.10" x2="344.60" y2="63.10" stroke="#231f20" stroke-width="0.5" />
<line x1="343.40" y1="67.60" x2="344.60" y2="67.60" stroke="#231f20" stroke-width="0.5" />
<line x1="343.40" y1="72.10" x2="344.60" y2="72.10" stroke="#231f20" stroke-width="0.5" />
<line x1="343.40" y1="76.60" x2="344.60" y2="76.60" stroke="#231f20" stroke-width="0.5" />
<line x1="343.40" y1="81.10" x2="344.60" y2="81.10" stroke="#231f20" stroke-width="0.5" />
<line x1="343.40" y1="85.60" x2="344.60" y2="85.60" stroke="#231f20" stroke-width="0.5" />
<line x1="343.40" y1="90.10" x2="344.60" y2="90.10" stroke="#231f20" stroke-width="0.5" />
<line x1="345.60" y1="91.10" x2="345.60" y2="93.50" stroke="#231f20" stroke-width="0.85" />
<line x1="347.90" y1="91.10" x2="347.90" y2="93.50" stroke="#231f20" stroke-width="0.85" />
<line x1="350.10" y1="91.10" x2="350.10" y2="93.50" stroke="#231f20" stroke-width="0.85" />
<line x1="352.30" y1="91.10" x2="352.30" y2="93.50" stroke="#231f20" stroke-width="0.85" />
<line x1="357.63" y1="91.10" x2="357.63" y2="93.50" stroke="#231f20" stroke-width="0.85" />
<line x1="359.82" y1="91.10" x2="359.82" y2="93.50" stroke="#231f20" stroke-width="0.85" />
<line x1="361.37" y1="91.10" x2="361.37" y2="93.50" stroke="#231f20" stroke-width="0.85" />
<line x1="362.57" y1="91.10" x2="362.57" y2="93.50" stroke="#231f20" stroke-width="0.85" />
<line x1="363.55" y1="91.10" x2="363.55" y2="93.50" stroke="#231f20" stroke-width="0.85" />
<line x1="364.38" y1="91.10" x2="364.38" y2="93.50" stroke="#231f20" stroke-width="0.85" />
<line x1="365.10" y1="91.10" x2="365.10" y2="93.50" stroke="#231f20" stroke-width="0.85" />
<line x1="365.73" y1="91.10" x2="365.73" y2="93.50" stroke="#231f20" stroke-width="0.85" />
<line x1="366.30" y1="91.10" x2="366.30" y2="93.50" stroke="#231f20" stroke-width="0.85" />
<line x1="370.03" y1="91.10" x2="370.03" y2="93.50" stroke="#231f20" stroke-width="0.85" />
<line x1="372.22" y1="91.10" x2="372.22" y2="93.50" stroke="#231f20" stroke-width="0.85" />
<line x1="373.77" y1="91.10" x2="373.77" y2="93.50" stroke="#231f20" stroke-width="0.85" />
<line x1="374.97" y1="91.10" x2="374.97" y2="93.50" stroke="#231f20" stroke-width="0.85" />
<line x1="375.95" y1="91.10" x2="375.95" y2="93.50" stroke="#231f20" stroke-width="0.85" />
<line x1="376.78" y1="91.10" x2="376.78" y2="93.50" stroke="#231f20" stroke-width="0.85" />
<line x1="377.50" y1="91.10" x2="377.50" y2="93.50" stroke="#231f20" stroke-width="0.85" />
<line x1="378.13" y1="91.10" x2="378.13" y2="93.50" stroke="#231f20" stroke-width="0.85" />
<line x1="378.70" y1="91.10" x2="378.70" y2="93.50" stroke="#231f20" stroke-width="0.85" />
<line x1="382.43" y1="91.10" x2="382.43" y2="93.50" stroke="#231f20" stroke-width="0.85" />
<line x1="384.62" y1="91.10" x2="384.62" y2="93.50" stroke="#231f20" stroke-width="0.85" />
<line x1="386.17" y1="91.10" x2="386.17" y2="93.50" stroke="#231f20" stroke-width="0.85" />
<line x1="387.37" y1="91.10" x2="387.37" y2="93.50" stroke="#231f20" stroke-width="0.85" />
<line x1="388.35" y1="91.10" x2="388.35" y2="93.50" stroke="#231f20" stroke-width="0.85" />
<line x1="389.18" y1="91.10" x2="389.18" y2="93.50" stroke="#231f20" stroke-width="0.85" />
<line x1="389.90" y1="91.10" x2="389.90" y2="93.50" stroke="#231f20" stroke-width="0.85" />
<line x1="390.53" y1="91.10" x2="390.53" y2="93.50" stroke="#231f20" stroke-width="0.85" />
<line x1="391.10" y1="91.10" x2="391.10" y2="93.50" stroke="#231f20" stroke-width="0.85" />
<line x1="394.83" y1="91.10" x2="394.83" y2="93.50" stroke="#231f20" stroke-width="0.85" />
<text x="0" y="0" font-size="8.10" textLength="11.23" lengthAdjust="spacingAndGlyphs" transform="translate(321.20,46.60) scale(0.926,1)" >3.1</text>
<text x="0" y="0" font-size="7.50" textLength="14.90" lengthAdjust="spacingAndGlyphs" transform="translate(320.70,87.00)" >28.9</text>
<text x="0" y="0" font-size="8.10" textLength="11.56" lengthAdjust="spacingAndGlyphs" transform="translate(382.70,46.60) scale(0.926,1)" >8.7</text>
<text x="0" y="0" font-size="7.50" textLength="14.70" lengthAdjust="spacingAndGlyphs" transform="translate(381.00,87.00)" >46.8</text>
<text x="271.40" y="44.50" font-size="8.2" textLength="8.60" lengthAdjust="spacingAndGlyphs">10</text>
<text x="280.20" y="41.30" font-size="5.6">5</text>
<text x="271.40" y="57.00" font-size="8.2" textLength="8.60" lengthAdjust="spacingAndGlyphs">10</text>
<text x="280.20" y="53.80" font-size="5.6">4</text>
<text x="271.40" y="68.90" font-size="8.2" textLength="8.60" lengthAdjust="spacingAndGlyphs">10</text>
<text x="280.20" y="65.70" font-size="5.6">3</text>
<text x="0" y="0" font-size="7.99" text-anchor="end" transform="translate(282.40,85.70) scale(0.926,1)" >0</text>
<line x1="265.50" y1="42.20" x2="265.50" y2="80.00" stroke="#231f20" stroke-width="1.05" />
<path d="M265.50,39.20 L263.80,44.20 L267.20,44.20 Z" fill="#231f20"/>
<text x="0" y="0" font-size="8.64" textLength="7.34" lengthAdjust="spacingAndGlyphs" transform="translate(268.60,90.00) rotate(-90) scale(0.926,1)" >PI</text>
<text x="0" y="0" font-size="7.99" text-anchor="middle" transform="translate(292.00,102.80) scale(0.926,1)" >0</text>
<text x="304.20" y="102.80" font-size="7.9" textLength="8.10" lengthAdjust="spacingAndGlyphs">10</text>
<text x="312.50" y="99.90" font-size="5.0">3</text>
<text x="316.70" y="102.80" font-size="7.9" textLength="8.20" lengthAdjust="spacingAndGlyphs">10</text>
<text x="325.10" y="99.90" font-size="5.0">4</text>
<text x="329.00" y="102.80" font-size="7.9" textLength="8.20" lengthAdjust="spacingAndGlyphs">10</text>
<text x="337.40" y="99.90" font-size="5.0">5</text>
<text x="0" y="0" font-size="8.10" textLength="38.02" lengthAdjust="spacingAndGlyphs" transform="translate(287.50,112.80) scale(0.926,1)" >Annexin V</text>
<line x1="325.20" y1="110.50" x2="393.50" y2="110.50" stroke="#231f20" stroke-width="1.05" />
<path d="M396.50,110.50 L391.50,108.80 L391.50,112.20 Z" fill="#231f20"/>
<circle cx="445.2" cy="12.4" r="1.9" fill="#c8192f"/>
<rect x="443.50" y="19.10" width="3.40" height="3.40" fill="#0d4f8b" />
<text x="0" y="0" font-size="7.20" textLength="32.80" lengthAdjust="spacingAndGlyphs" transform="translate(451.00,14.50)" >B-All (WT)</text>
<text x="0" y="0" font-size="7.20" textLength="40.40" lengthAdjust="spacingAndGlyphs" transform="translate(451.00,23.50)" >B-ALL (BKO)</text>
<line x1="443.20" y1="30.80" x2="443.20" y2="85.60" stroke="#231f20" stroke-width="1.2" />
<line x1="443.20" y1="85.60" x2="512.80" y2="85.60" stroke="#231f20" stroke-width="1.2" />
<line x1="440.60" y1="31.00" x2="443.20" y2="31.00" stroke="#231f20" stroke-width="0.9" />
<text x="0" y="0" font-size="8.21" text-anchor="end" transform="translate(438.80,33.60) scale(0.926,1)" >80</text>
<line x1="440.60" y1="44.70" x2="443.20" y2="44.70" stroke="#231f20" stroke-width="0.9" />
<text x="0" y="0" font-size="8.21" text-anchor="end" transform="translate(438.80,47.30) scale(0.926,1)" >60</text>
<line x1="440.60" y1="58.40" x2="443.20" y2="58.40" stroke="#231f20" stroke-width="0.9" />
<text x="0" y="0" font-size="8.21" text-anchor="end" transform="translate(438.80,61.00) scale(0.926,1)" >40</text>
<line x1="440.60" y1="72.00" x2="443.20" y2="72.00" stroke="#231f20" stroke-width="0.9" />
<text x="0" y="0" font-size="8.21" text-anchor="end" transform="translate(438.80,74.60) scale(0.926,1)" >20</text>
<line x1="440.60" y1="85.60" x2="443.20" y2="85.60" stroke="#231f20" stroke-width="0.9" />
<text x="0" y="0" font-size="8.21" text-anchor="end" transform="translate(438.80,88.20) scale(0.926,1)" >0</text>
<text x="0" y="0" font-size="8.05" text-anchor="middle" textLength="59.34" lengthAdjust="spacingAndGlyphs" font-style="italic" fill="#3a3a3a" transform="translate(423.30,58.20) rotate(-90) scale(0.870,1)" style="stroke-width:0">Apoptotic cells (%)</text>
<line x1="456.50" y1="63.60" x2="456.50" y2="72.40" stroke="#c8192f" stroke-width="0.9" />
<line x1="454.50" y1="63.60" x2="458.50" y2="63.60" stroke="#c8192f" stroke-width="0.9" />
<line x1="454.50" y1="72.40" x2="458.50" y2="72.40" stroke="#c8192f" stroke-width="0.9" />
<circle cx="451.50" cy="65.80" r="1.5" fill="#c8192f"/>
<circle cx="455.10" cy="64.70" r="1.5" fill="#c8192f"/>
<circle cx="458.00" cy="64.20" r="1.5" fill="#c8192f"/>
<circle cx="460.90" cy="63.90" r="1.5" fill="#c8192f"/>
<circle cx="454.10" cy="70.90" r="1.5" fill="#c8192f"/>
<circle cx="455.60" cy="71.40" r="1.5" fill="#c8192f"/>
<circle cx="457.60" cy="74.80" r="1.5" fill="#c8192f"/>
<line x1="449.80" y1="68.30" x2="462.40" y2="68.30" stroke="#231f20" stroke-width="1.1" />
<line x1="468.80" y1="47.40" x2="468.80" y2="63.70" stroke="#0d4f8b" stroke-width="0.9" />
<line x1="466.80" y1="47.40" x2="470.80" y2="47.40" stroke="#0d4f8b" stroke-width="0.9" />
<line x1="466.80" y1="63.70" x2="470.80" y2="63.70" stroke="#0d4f8b" stroke-width="0.9" />
<rect x="467.10" y="41.50" width="3.00" height="3.00" fill="#0d4f8b" />
<rect x="463.70" y="50.20" width="3.00" height="3.00" fill="#0d4f8b" />
<rect x="470.20" y="52.10" width="3.00" height="3.00" fill="#0d4f8b" />
<rect x="463.70" y="55.50" width="3.00" height="3.00" fill="#0d4f8b" />
<rect x="469.90" y="58.80" width="3.00" height="3.00" fill="#0d4f8b" />
<rect x="467.10" y="64.20" width="3.00" height="3.00" fill="#0d4f8b" />
<line x1="463.00" y1="55.30" x2="474.90" y2="55.30" stroke="#231f20" stroke-width="1.1" />
<circle cx="483.50" cy="84.00" r="1.5" fill="#c8192f"/>
<circle cx="485.50" cy="84.00" r="1.5" fill="#c8192f"/>
<circle cx="487.50" cy="84.00" r="1.5" fill="#c8192f"/>
<circle cx="489.50" cy="84.00" r="1.5" fill="#c8192f"/>
<circle cx="491.00" cy="84.00" r="1.5" fill="#c8192f"/>
<line x1="481.80" y1="83.80" x2="493.40" y2="83.80" stroke="#231f20" stroke-width="1.1" />
<line x1="499.80" y1="76.50" x2="499.80" y2="84.00" stroke="#0d4f8b" stroke-width="0.9" />
<line x1="497.80" y1="76.50" x2="501.80" y2="76.50" stroke="#0d4f8b" stroke-width="0.9" />
<line x1="497.80" y1="84.00" x2="501.80" y2="84.00" stroke="#0d4f8b" stroke-width="0.9" />
<rect x="498.40" y="75.00" width="3.00" height="3.00" fill="#0d4f8b" />
<rect x="494.00" y="77.60" width="3.00" height="3.00" fill="#0d4f8b" />
<rect x="502.00" y="80.50" width="3.00" height="3.00" fill="#0d4f8b" />
<rect x="503.50" y="81.90" width="3.00" height="3.00" fill="#0d4f8b" />
<rect x="496.20" y="80.50" width="3.00" height="3.00" fill="#0d4f8b" />
<rect x="499.50" y="78.00" width="3.00" height="3.00" fill="#0d4f8b" />
<line x1="493.70" y1="80.20" x2="506.00" y2="80.20" stroke="#231f20" stroke-width="1.1" />
<line x1="453.30" y1="39.00" x2="472.00" y2="39.00" stroke="#231f20" stroke-width="1.0" />
<text x="0" y="0" font-size="8.50" text-anchor="middle" transform="translate(462.90,39.30)" >**</text>
<line x1="485.90" y1="73.30" x2="504.60" y2="73.30" stroke="#231f20" stroke-width="1.0" />
<text x="0" y="0" font-size="8.50" text-anchor="middle" transform="translate(495.20,74.10)" >**</text>
<text x="0" y="0" font-size="7.88" text-anchor="middle" transform="translate(457.60,95.30) scale(0.952,1)" >PI<tspan font-size="5.46" dy="-2.73">&#8722;</tspan></text>
<text x="0" y="0" font-size="7.88" text-anchor="middle" transform="translate(460.80,105.20) scale(0.952,1)" >AnxV<tspan font-size="5.46" dy="-2.73">+</tspan></text>
<text x="0" y="0" font-size="7.88" text-anchor="middle" transform="translate(494.60,95.30) scale(0.952,1)" >PI<tspan font-size="5.46" dy="-2.73">+</tspan></text>
<text x="0" y="0" font-size="7.88" text-anchor="middle" transform="translate(498.90,105.20) scale(0.952,1)" >AnxV<tspan font-size="5.46" dy="-2.73">+</tspan></text>
<text x="0" y="0" font-size="11.40" font-weight="bold" transform="translate(7.30,172.50)" stroke="#231f20" stroke-width="0.35">D</text>
<text x="0" y="0" font-size="7.50" textLength="37.20" lengthAdjust="spacingAndGlyphs" transform="translate(45.80,185.90)" >B-ALL(WT)</text>
<text x="0" y="0" font-size="7.50" textLength="42.00" lengthAdjust="spacingAndGlyphs" transform="translate(98.80,185.90)" >B-ALL(BKO)</text>
<g fill="#c2c2c2"><circle cx="70.21" cy="197.68" r="0.3"/><circle cx="73.31" cy="199.48" r="0.3"/><circle cx="72.32" cy="199.30" r="0.3"/><circle cx="59.52" cy="195.19" r="0.3"/><circle cx="75.98" cy="196.84" r="0.3"/><circle cx="75.22" cy="192.02" r="0.3"/><circle cx="67.44" cy="193.22" r="0.3"/><circle cx="68.79" cy="196.17" r="0.3"/><circle cx="59.24" cy="192.95" r="0.3"/><circle cx="64.03" cy="199.25" r="0.3"/><circle cx="72.78" cy="192.44" r="0.3"/><circle cx="73.35" cy="192.25" r="0.3"/><circle cx="70.11" cy="192.14" r="0.3"/><circle cx="59.03" cy="198.84" r="0.3"/></g>
<path d="M70.50,193.80 C71.92,193.88 73.48,194.38 74.50,195.50 C75.52,196.62 76.15,198.42 76.60,200.50 C77.05,202.58 77.22,205.83 77.20,208.00 C77.18,210.17 76.90,211.92 76.50,213.50 C76.10,215.08 74.98,216.08 74.80,217.50 C74.62,218.92 75.33,220.42 75.40,222.00 C75.47,223.58 75.52,225.37 75.20,227.00 C74.88,228.63 74.62,230.72 73.50,231.80 C72.38,232.88 70.17,233.38 68.50,233.50 C66.83,233.62 64.68,233.42 63.50,232.50 C62.32,231.58 61.78,229.75 61.40,228.00 C61.02,226.25 61.13,223.75 61.20,222.00 C61.27,220.25 61.92,219.17 61.80,217.50 C61.68,215.83 60.70,214.08 60.50,212.00 C60.30,209.92 60.32,207.17 60.60,205.00 C60.88,202.83 61.30,200.67 62.20,199.00 C63.10,197.33 64.62,195.87 66.00,195.00 C67.38,194.13 69.08,193.72 70.50,193.80Z" fill="#d4d4d4" stroke="#a0a0a0" stroke-width="0.5" />
<path d="M70.32,195.74 C71.57,195.82 72.95,196.26 73.84,197.24 C74.73,198.22 75.29,199.81 75.69,201.64 C76.08,203.47 76.23,206.33 76.22,208.24 C76.20,210.15 75.95,211.69 75.60,213.08 C75.25,214.47 74.69,215.79 74.10,216.60 C73.52,217.41 73.00,217.63 72.08,217.92 C71.16,218.21 69.73,218.36 68.56,218.36 C67.39,218.36 66.02,218.21 65.04,217.92 C64.06,217.63 63.25,217.63 62.66,216.60 C62.08,215.57 61.70,213.59 61.52,211.76 C61.34,209.93 61.36,207.51 61.61,205.60 C61.86,203.69 62.22,201.79 63.02,200.32 C63.81,198.85 65.14,197.56 66.36,196.80 C67.58,196.04 69.07,195.67 70.32,195.74Z" fill="none" stroke="#b0b0b0" stroke-width="0.45" />
<path d="M70.14,197.69 C71.22,197.75 72.41,198.13 73.18,198.98 C73.95,199.83 74.43,201.20 74.78,202.78 C75.12,204.36 75.24,206.83 75.23,208.48 C75.22,210.13 75.00,211.46 74.70,212.66 C74.40,213.86 73.91,215.00 73.41,215.70 C72.90,216.40 72.46,216.59 71.66,216.84 C70.86,217.09 69.63,217.22 68.62,217.22 C67.61,217.22 66.43,217.09 65.58,216.84 C64.73,216.59 64.03,216.59 63.53,215.70 C63.02,214.81 62.69,213.10 62.54,211.52 C62.39,209.94 62.40,207.85 62.62,206.20 C62.83,204.55 63.15,202.91 63.83,201.64 C64.52,200.37 65.67,199.26 66.72,198.60 C67.77,197.94 69.06,197.62 70.14,197.69Z" fill="none" stroke="#a8a8a8" stroke-width="0.45" />
<path d="M69.94,199.79 C70.84,199.85 71.82,200.16 72.47,200.87 C73.11,201.57 73.50,202.70 73.79,204.01 C74.07,205.33 74.18,207.38 74.17,208.74 C74.16,210.11 73.98,211.21 73.72,212.21 C73.47,213.20 73.07,214.15 72.65,214.72 C72.23,215.30 71.87,215.46 71.20,215.67 C70.54,215.88 69.53,215.99 68.69,215.99 C67.84,215.99 66.87,215.88 66.17,215.67 C65.46,215.46 64.88,215.46 64.46,214.72 C64.04,213.99 63.77,212.57 63.64,211.26 C63.52,209.95 63.53,208.22 63.71,206.85 C63.89,205.48 64.15,204.12 64.72,203.07 C65.28,202.02 66.24,201.10 67.11,200.55 C67.98,200.00 69.05,199.74 69.94,199.79Z" fill="#d2d2d2" stroke="#a0a0a0" stroke-width="0.45" />
<path d="M69.75,201.90 C70.46,201.94 71.24,202.19 71.75,202.75 C72.26,203.31 72.58,204.21 72.80,205.25 C73.02,206.29 73.11,207.92 73.10,209.00 C73.09,210.08 72.95,210.96 72.75,211.75 C72.55,212.54 72.23,213.29 71.90,213.75 C71.57,214.21 71.28,214.33 70.75,214.50 C70.22,214.67 69.42,214.75 68.75,214.75 C68.08,214.75 67.31,214.67 66.75,214.50 C66.19,214.33 65.73,214.33 65.40,213.75 C65.07,213.17 64.85,212.04 64.75,211.00 C64.65,209.96 64.66,208.58 64.80,207.50 C64.94,206.42 65.15,205.33 65.60,204.50 C66.05,203.67 66.81,202.93 67.50,202.50 C68.19,202.07 69.04,201.86 69.75,201.90Z" fill="#d2d2d2" stroke="#a4a4a4" stroke-width="0.45" />
<path d="M63.50,217.50 C64.53,216.17 66.83,216.00 68.50,216.00 C70.17,216.00 72.50,216.17 73.50,217.50 C74.50,218.83 74.55,221.75 74.50,224.00 C74.45,226.25 74.22,229.53 73.20,231.00 C72.18,232.47 69.97,232.80 68.40,232.80 C66.83,232.80 64.82,232.47 63.80,231.00 C62.78,229.53 62.35,226.25 62.30,224.00 C62.25,221.75 62.47,218.83 63.50,217.50Z" fill="#cdcdcd" stroke="#8a8a8a" stroke-width="0.5" />
<path d="M64.23,218.78 C65.11,217.64 67.07,217.50 68.48,217.50 C69.90,217.50 71.88,217.64 72.73,218.78 C73.59,219.91 73.63,222.39 73.59,224.30 C73.54,226.21 73.34,229.00 72.48,230.25 C71.62,231.50 69.73,231.78 68.40,231.78 C67.07,231.78 65.35,231.50 64.49,230.25 C63.63,229.00 63.26,226.21 63.21,224.30 C63.17,222.39 63.36,219.91 64.23,218.78Z" fill="#c4c4c4" stroke="#7c7c7c" stroke-width="0.5" />
<ellipse cx="68.4" cy="226.7" rx="4.2" ry="4.4" fill="#d0d0d0" stroke="#444" stroke-width="1.1"/>
<ellipse cx="68.6" cy="226.2" rx="2.7" ry="3.1" fill="#e8e8e8" stroke="#8a8a8a" stroke-width="0.5"/>
<ellipse cx="68.3" cy="227.3" rx="1.3" ry="1.5" fill="#fafafa"/>
<rect x="57.60" y="189.20" width="21.50" height="27.10" fill="none" stroke="#8c8c8c" stroke-width="0.8" />
<rect x="36.50" y="189.20" width="53.90" height="53.80" fill="none" stroke="#231f20" stroke-width="1.1" />
<line x1="35.10" y1="191.20" x2="36.50" y2="191.20" stroke="#231f20" stroke-width="0.55" />
<line x1="35.10" y1="194.80" x2="36.50" y2="194.80" stroke="#231f20" stroke-width="0.55" />
<line x1="35.10" y1="198.40" x2="36.50" y2="198.40" stroke="#231f20" stroke-width="0.55" />
<line x1="35.10" y1="202.00" x2="36.50" y2="202.00" stroke="#231f20" stroke-width="0.55" />
<line x1="35.10" y1="205.60" x2="36.50" y2="205.60" stroke="#231f20" stroke-width="0.55" />
<line x1="35.10" y1="209.20" x2="36.50" y2="209.20" stroke="#231f20" stroke-width="0.55" />
<line x1="35.10" y1="212.80" x2="36.50" y2="212.80" stroke="#231f20" stroke-width="0.55" />
<line x1="35.10" y1="216.40" x2="36.50" y2="216.40" stroke="#231f20" stroke-width="0.55" />
<line x1="35.10" y1="220.00" x2="36.50" y2="220.00" stroke="#231f20" stroke-width="0.55" />
<line x1="35.10" y1="223.60" x2="36.50" y2="223.60" stroke="#231f20" stroke-width="0.55" />
<line x1="35.10" y1="227.20" x2="36.50" y2="227.20" stroke="#231f20" stroke-width="0.55" />
<line x1="35.10" y1="230.80" x2="36.50" y2="230.80" stroke="#231f20" stroke-width="0.55" />
<line x1="35.10" y1="234.40" x2="36.50" y2="234.40" stroke="#231f20" stroke-width="0.55" />
<line x1="35.10" y1="238.00" x2="36.50" y2="238.00" stroke="#231f20" stroke-width="0.55" />
<line x1="35.10" y1="241.60" x2="36.50" y2="241.60" stroke="#231f20" stroke-width="0.55" />
<line x1="43.80" y1="243.00" x2="43.80" y2="244.80" stroke="#231f20" stroke-width="0.6" />
<line x1="46.10" y1="243.00" x2="46.10" y2="244.80" stroke="#231f20" stroke-width="0.6" />
<line x1="48.30" y1="243.00" x2="48.30" y2="244.80" stroke="#231f20" stroke-width="0.6" />
<line x1="50.50" y1="243.00" x2="50.50" y2="244.80" stroke="#231f20" stroke-width="0.6" />
<line x1="45.70" y1="243.00" x2="45.70" y2="244.80" stroke="#231f20" stroke-width="0.6" />
<line x1="49.61" y1="243.00" x2="49.61" y2="244.80" stroke="#231f20" stroke-width="0.6" />
<line x1="51.90" y1="243.00" x2="51.90" y2="244.80" stroke="#231f20" stroke-width="0.6" />
<line x1="53.53" y1="243.00" x2="53.53" y2="244.80" stroke="#231f20" stroke-width="0.6" />
<line x1="54.79" y1="243.00" x2="54.79" y2="244.80" stroke="#231f20" stroke-width="0.6" />
<line x1="55.82" y1="243.00" x2="55.82" y2="244.80" stroke="#231f20" stroke-width="0.6" />
<line x1="56.69" y1="243.00" x2="56.69" y2="244.80" stroke="#231f20" stroke-width="0.6" />
<line x1="57.44" y1="243.00" x2="57.44" y2="244.80" stroke="#231f20" stroke-width="0.6" />
<line x1="58.11" y1="243.00" x2="58.11" y2="244.80" stroke="#231f20" stroke-width="0.6" />
<line x1="58.70" y1="243.00" x2="58.70" y2="244.80" stroke="#231f20" stroke-width="0.6" />
<line x1="62.61" y1="243.00" x2="62.61" y2="244.80" stroke="#231f20" stroke-width="0.6" />
<line x1="64.90" y1="243.00" x2="64.90" y2="244.80" stroke="#231f20" stroke-width="0.6" />
<line x1="66.53" y1="243.00" x2="66.53" y2="244.80" stroke="#231f20" stroke-width="0.6" />
<line x1="67.79" y1="243.00" x2="67.79" y2="244.80" stroke="#231f20" stroke-width="0.6" />
<line x1="68.82" y1="243.00" x2="68.82" y2="244.80" stroke="#231f20" stroke-width="0.6" />
<line x1="69.69" y1="243.00" x2="69.69" y2="244.80" stroke="#231f20" stroke-width="0.6" />
<line x1="70.44" y1="243.00" x2="70.44" y2="244.80" stroke="#231f20" stroke-width="0.6" />
<line x1="71.11" y1="243.00" x2="71.11" y2="244.80" stroke="#231f20" stroke-width="0.6" />
<line x1="71.70" y1="243.00" x2="71.70" y2="244.80" stroke="#231f20" stroke-width="0.6" />
<line x1="75.61" y1="243.00" x2="75.61" y2="244.80" stroke="#231f20" stroke-width="0.6" />
<line x1="77.90" y1="243.00" x2="77.90" y2="244.80" stroke="#231f20" stroke-width="0.6" />
<line x1="79.53" y1="243.00" x2="79.53" y2="244.80" stroke="#231f20" stroke-width="0.6" />
<line x1="80.79" y1="243.00" x2="80.79" y2="244.80" stroke="#231f20" stroke-width="0.6" />
<line x1="81.82" y1="243.00" x2="81.82" y2="244.80" stroke="#231f20" stroke-width="0.6" />
<line x1="82.69" y1="243.00" x2="82.69" y2="244.80" stroke="#231f20" stroke-width="0.6" />
<line x1="83.44" y1="243.00" x2="83.44" y2="244.80" stroke="#231f20" stroke-width="0.6" />
<line x1="84.11" y1="243.00" x2="84.11" y2="244.80" stroke="#231f20" stroke-width="0.6" />
<line x1="84.70" y1="243.00" x2="84.70" y2="244.80" stroke="#231f20" stroke-width="0.6" />
<line x1="88.61" y1="243.00" x2="88.61" y2="244.80" stroke="#231f20" stroke-width="0.6" />
<g fill="#c6c6c6"><circle cx="130.28" cy="197.58" r="0.3"/><circle cx="124.73" cy="193.09" r="0.3"/><circle cx="116.01" cy="196.30" r="0.3"/><circle cx="124.46" cy="197.08" r="0.3"/><circle cx="122.72" cy="197.16" r="0.3"/><circle cx="120.91" cy="197.42" r="0.3"/><circle cx="129.14" cy="194.31" r="0.3"/><circle cx="125.69" cy="196.46" r="0.3"/><circle cx="119.47" cy="195.43" r="0.3"/><circle cx="130.49" cy="193.12" r="0.3"/></g>
<path d="M118.00,197.50 C118.70,196.95 120.00,196.22 121.00,196.20 C122.00,196.18 123.17,196.73 124.00,197.40 C124.83,198.07 125.20,199.35 126.00,200.20 C126.80,201.05 128.10,201.45 128.80,202.50 C129.50,203.55 129.80,205.08 130.20,206.50 C130.60,207.92 130.97,209.08 131.20,211.00 C131.43,212.92 131.47,215.50 131.60,218.00 C131.73,220.50 132.10,223.83 132.00,226.00 C131.90,228.17 131.83,229.78 131.00,231.00 C130.17,232.22 128.83,232.97 127.00,233.30 C125.17,233.63 121.92,233.38 120.00,233.00 C118.08,232.62 116.40,232.17 115.50,231.00 C114.60,229.83 114.72,228.17 114.60,226.00 C114.48,223.83 114.65,220.67 114.80,218.00 C114.95,215.33 115.27,212.50 115.50,210.00 C115.73,207.50 115.98,204.75 116.20,203.00 C116.42,201.25 116.50,200.42 116.80,199.50 C117.10,198.58 117.30,198.05 118.00,197.50Z" fill="#dedede" stroke="#9a9a9a" stroke-width="0.5" />
<path d="M118.84,199.30 C119.54,198.82 120.77,197.85 121.58,197.85 C122.38,197.85 122.93,198.69 123.67,199.30 C124.42,199.91 125.32,200.85 126.04,201.54 C126.76,202.22 127.39,202.48 128.00,203.41 C128.60,204.33 129.21,205.76 129.69,207.08 C130.16,208.41 130.69,209.60 130.84,211.37 C130.99,213.14 130.56,215.43 130.60,217.72 C130.64,220.02 131.08,223.21 131.09,225.15 C131.09,227.08 131.34,228.25 130.63,229.31 C129.92,230.38 128.48,231.17 126.82,231.53 C125.15,231.89 122.45,231.87 120.64,231.48 C118.84,231.09 116.81,230.33 115.97,229.19 C115.14,228.05 115.65,226.63 115.62,224.64 C115.59,222.66 115.62,219.64 115.79,217.27 C115.96,214.90 116.51,212.59 116.65,210.42 C116.80,208.25 116.55,205.85 116.67,204.23 C116.79,202.61 117.01,201.53 117.37,200.71 C117.73,199.89 118.14,199.77 118.84,199.30Z" fill="none" stroke="#a6a6a6" stroke-width="0.45" />
<path d="M119.29,201.11 C119.78,200.75 120.64,200.68 121.47,200.65 C122.30,200.62 123.52,200.51 124.26,200.93 C125.00,201.35 125.33,202.37 125.92,203.17 C126.51,203.97 127.27,204.85 127.81,205.72 C128.35,206.60 128.83,207.38 129.16,208.44 C129.48,209.51 129.64,210.49 129.76,212.11 C129.88,213.74 129.82,216.20 129.88,218.20 C129.94,220.20 130.14,222.49 130.14,224.14 C130.15,225.79 130.44,227.17 129.90,228.12 C129.35,229.07 128.32,229.50 126.88,229.84 C125.45,230.17 122.86,230.33 121.28,230.11 C119.71,229.89 118.23,229.45 117.44,228.51 C116.65,227.57 116.61,226.25 116.54,224.47 C116.46,222.68 116.85,219.96 116.98,217.81 C117.10,215.66 117.14,213.62 117.28,211.56 C117.41,209.51 117.58,206.93 117.79,205.47 C118.00,204.01 118.29,203.54 118.54,202.81 C118.79,202.09 118.80,201.47 119.29,201.11Z" fill="none" stroke="#a6a6a6" stroke-width="0.45" />
<path d="M120.09,204.18 C120.54,203.79 121.29,202.70 121.94,202.66 C122.59,202.62 123.39,203.45 124.00,203.95 C124.61,204.45 124.99,205.00 125.59,205.65 C126.19,206.29 127.15,207.04 127.62,207.79 C128.10,208.55 128.11,209.23 128.44,210.18 C128.78,211.13 129.48,212.14 129.64,213.49 C129.81,214.84 129.39,216.59 129.43,218.28 C129.47,219.97 129.94,222.12 129.88,223.61 C129.83,225.11 129.64,226.37 129.10,227.24 C128.56,228.12 127.89,228.55 126.64,228.87 C125.40,229.19 122.95,229.44 121.63,229.18 C120.30,228.92 119.33,228.20 118.69,227.30 C118.05,226.40 117.95,225.26 117.80,223.76 C117.65,222.25 117.65,220.07 117.78,218.29 C117.91,216.51 118.44,214.86 118.58,213.05 C118.73,211.24 118.57,208.75 118.67,207.40 C118.78,206.06 118.98,205.53 119.22,205.00 C119.46,204.46 119.64,204.57 120.09,204.18Z" fill="#d6d6d6" stroke="#949494" stroke-width="0.45" />
<path d="M120.42,207.12 C120.74,206.76 121.65,206.28 122.29,206.29 C122.93,206.31 123.69,206.88 124.29,207.19 C124.89,207.50 125.43,207.66 125.88,208.17 C126.34,208.68 126.65,209.58 127.03,210.26 C127.42,210.94 127.89,211.41 128.21,212.24 C128.53,213.07 128.82,214.09 128.95,215.25 C129.07,216.41 128.96,217.74 128.95,219.18 C128.94,220.61 128.99,222.57 128.88,223.89 C128.77,225.21 128.75,226.40 128.32,227.10 C127.88,227.80 127.32,227.97 126.29,228.10 C125.25,228.22 123.32,228.04 122.10,227.88 C120.89,227.71 119.55,227.71 118.98,227.12 C118.42,226.52 118.73,225.61 118.73,224.32 C118.73,223.03 118.94,220.97 118.98,219.36 C119.03,217.75 118.93,216.18 119.00,214.67 C119.07,213.16 119.15,211.33 119.39,210.29 C119.62,209.25 120.24,208.96 120.41,208.43 C120.58,207.90 120.11,207.47 120.42,207.12Z" fill="#d6d6d6" stroke="#949494" stroke-width="0.45" />
<path d="M122.06,210.21 C122.38,209.95 123.01,209.78 123.41,209.83 C123.80,209.89 124.01,210.27 124.46,210.55 C124.90,210.84 125.59,211.19 126.08,211.55 C126.56,211.91 127.11,212.15 127.37,212.71 C127.64,213.27 127.57,214.16 127.67,214.92 C127.78,215.68 127.79,216.34 128.00,217.24 C128.21,218.14 128.75,219.17 128.93,220.33 C129.12,221.48 129.17,223.08 129.10,224.17 C129.04,225.25 128.95,226.17 128.54,226.82 C128.12,227.48 127.53,227.96 126.62,228.09 C125.71,228.23 124.16,227.77 123.09,227.63 C122.01,227.49 120.66,227.77 120.17,227.25 C119.68,226.74 120.23,225.70 120.16,224.53 C120.10,223.36 119.74,221.64 119.78,220.24 C119.82,218.84 120.15,217.31 120.40,216.14 C120.64,214.97 121.06,214.00 121.24,213.21 C121.43,212.42 121.37,211.91 121.51,211.41 C121.65,210.91 121.75,210.47 122.06,210.21Z" fill="#d6d6d6" stroke="#949494" stroke-width="0.45" />
<ellipse cx="126.1" cy="226.7" rx="3.9" ry="4.4" fill="#dadada" stroke="#8a8a8a" stroke-width="0.7"/>
<path d="M122.5,228.8 A3.9,4.4 0 0 0 130,225.8" fill="none" stroke="#444" stroke-width="1.1"/>
<ellipse cx="125.9" cy="227.0" rx="2.0" ry="2.4" fill="#f2f2f2"/>
<rect x="114.20" y="188.80" width="21.50" height="26.80" fill="none" stroke="#8c8c8c" stroke-width="0.8" />
<rect x="93.10" y="188.80" width="53.80" height="54.20" fill="none" stroke="#231f20" stroke-width="1.1" />
<line x1="91.70" y1="190.80" x2="93.10" y2="190.80" stroke="#231f20" stroke-width="0.55" />
<line x1="91.70" y1="194.40" x2="93.10" y2="194.40" stroke="#231f20" stroke-width="0.55" />
<line x1="91.70" y1="198.00" x2="93.10" y2="198.00" stroke="#231f20" stroke-width="0.55" />
<line x1="91.70" y1="201.60" x2="93.10" y2="201.60" stroke="#231f20" stroke-width="0.55" />
<line x1="91.70" y1="205.20" x2="93.10" y2="205.20" stroke="#231f20" stroke-width="0.55" />
<line x1="91.70" y1="208.80" x2="93.10" y2="208.80" stroke="#231f20" stroke-width="0.55" />
<line x1="91.70" y1="212.40" x2="93.10" y2="212.40" stroke="#231f20" stroke-width="0.55" />
<line x1="91.70" y1="216.00" x2="93.10" y2="216.00" stroke="#231f20" stroke-width="0.55" />
<line x1="91.70" y1="219.60" x2="93.10" y2="219.60" stroke="#231f20" stroke-width="0.55" />
<line x1="91.70" y1="223.20" x2="93.10" y2="223.20" stroke="#231f20" stroke-width="0.55" />
<line x1="91.70" y1="226.80" x2="93.10" y2="226.80" stroke="#231f20" stroke-width="0.55" />
<line x1="91.70" y1="230.40" x2="93.10" y2="230.40" stroke="#231f20" stroke-width="0.55" />
<line x1="91.70" y1="234.00" x2="93.10" y2="234.00" stroke="#231f20" stroke-width="0.55" />
<line x1="91.70" y1="237.60" x2="93.10" y2="237.60" stroke="#231f20" stroke-width="0.55" />
<line x1="91.70" y1="241.20" x2="93.10" y2="241.20" stroke="#231f20" stroke-width="0.55" />
<line x1="100.40" y1="243.00" x2="100.40" y2="244.80" stroke="#231f20" stroke-width="0.6" />
<line x1="102.70" y1="243.00" x2="102.70" y2="244.80" stroke="#231f20" stroke-width="0.6" />
<line x1="104.90" y1="243.00" x2="104.90" y2="244.80" stroke="#231f20" stroke-width="0.6" />
<line x1="107.10" y1="243.00" x2="107.10" y2="244.80" stroke="#231f20" stroke-width="0.6" />
<line x1="102.30" y1="243.00" x2="102.30" y2="244.80" stroke="#231f20" stroke-width="0.6" />
<line x1="106.21" y1="243.00" x2="106.21" y2="244.80" stroke="#231f20" stroke-width="0.6" />
<line x1="108.50" y1="243.00" x2="108.50" y2="244.80" stroke="#231f20" stroke-width="0.6" />
<line x1="110.13" y1="243.00" x2="110.13" y2="244.80" stroke="#231f20" stroke-width="0.6" />
<line x1="111.39" y1="243.00" x2="111.39" y2="244.80" stroke="#231f20" stroke-width="0.6" />
<line x1="112.42" y1="243.00" x2="112.42" y2="244.80" stroke="#231f20" stroke-width="0.6" />
<line x1="113.29" y1="243.00" x2="113.29" y2="244.80" stroke="#231f20" stroke-width="0.6" />
<line x1="114.04" y1="243.00" x2="114.04" y2="244.80" stroke="#231f20" stroke-width="0.6" />
<line x1="114.71" y1="243.00" x2="114.71" y2="244.80" stroke="#231f20" stroke-width="0.6" />
<line x1="115.30" y1="243.00" x2="115.30" y2="244.80" stroke="#231f20" stroke-width="0.6" />
<line x1="119.21" y1="243.00" x2="119.21" y2="244.80" stroke="#231f20" stroke-width="0.6" />
<line x1="121.50" y1="243.00" x2="121.50" y2="244.80" stroke="#231f20" stroke-width="0.6" />
<line x1="123.13" y1="243.00" x2="123.13" y2="244.80" stroke="#231f20" stroke-width="0.6" />
<line x1="124.39" y1="243.00" x2="124.39" y2="244.80" stroke="#231f20" stroke-width="0.6" />
<line x1="125.42" y1="243.00" x2="125.42" y2="244.80" stroke="#231f20" stroke-width="0.6" />
<line x1="126.29" y1="243.00" x2="126.29" y2="244.80" stroke="#231f20" stroke-width="0.6" />
<line x1="127.04" y1="243.00" x2="127.04" y2="244.80" stroke="#231f20" stroke-width="0.6" />
<line x1="127.71" y1="243.00" x2="127.71" y2="244.80" stroke="#231f20" stroke-width="0.6" />
<line x1="128.30" y1="243.00" x2="128.30" y2="244.80" stroke="#231f20" stroke-width="0.6" />
<line x1="132.21" y1="243.00" x2="132.21" y2="244.80" stroke="#231f20" stroke-width="0.6" />
<line x1="134.50" y1="243.00" x2="134.50" y2="244.80" stroke="#231f20" stroke-width="0.6" />
<line x1="136.13" y1="243.00" x2="136.13" y2="244.80" stroke="#231f20" stroke-width="0.6" />
<line x1="137.39" y1="243.00" x2="137.39" y2="244.80" stroke="#231f20" stroke-width="0.6" />
<line x1="138.42" y1="243.00" x2="138.42" y2="244.80" stroke="#231f20" stroke-width="0.6" />
<line x1="139.29" y1="243.00" x2="139.29" y2="244.80" stroke="#231f20" stroke-width="0.6" />
<line x1="140.04" y1="243.00" x2="140.04" y2="244.80" stroke="#231f20" stroke-width="0.6" />
<line x1="140.71" y1="243.00" x2="140.71" y2="244.80" stroke="#231f20" stroke-width="0.6" />
<line x1="141.30" y1="243.00" x2="141.30" y2="244.80" stroke="#231f20" stroke-width="0.6" />
<line x1="145.21" y1="243.00" x2="145.21" y2="244.80" stroke="#231f20" stroke-width="0.6" />
<text x="0" y="0" font-size="7.50" textLength="14.80" lengthAdjust="spacingAndGlyphs" transform="translate(40.00,205.20)" >46.3</text>
<text x="0" y="0" font-size="7.50" textLength="14.30" lengthAdjust="spacingAndGlyphs" transform="translate(95.70,205.20)" >29.0</text>
<text x="20.70" y="197.10" font-size="8.1" textLength="7.60" lengthAdjust="spacingAndGlyphs">10</text>
<text x="28.50" y="193.90" font-size="5.6">5</text>
<text x="20.70" y="209.00" font-size="8.1" textLength="7.60" lengthAdjust="spacingAndGlyphs">10</text>
<text x="28.50" y="205.80" font-size="5.6">4</text>
<text x="20.70" y="221.30" font-size="8.1" textLength="7.60" lengthAdjust="spacingAndGlyphs">10</text>
<text x="28.50" y="218.10" font-size="5.6">3</text>
<text x="0" y="0" font-size="7.99" text-anchor="end" transform="translate(31.90,232.50) scale(0.926,1)" >0</text>
<line x1="13.80" y1="190.00" x2="13.80" y2="228.50" stroke="#231f20" stroke-width="1.05" />
<path d="M13.80,187.00 L12.10,192.00 L15.50,192.00 Z" fill="#231f20"/>
<text x="0" y="0" font-size="8.42" textLength="16.20" lengthAdjust="spacingAndGlyphs" transform="translate(16.70,247.00) rotate(-90) scale(0.926,1)" >Ki67</text>
<text x="0" y="0" font-size="7.99" text-anchor="middle" transform="translate(48.30,253.60) scale(0.926,1)" >0</text>
<text x="54.50" y="253.60" font-size="7.9" textLength="8.40" lengthAdjust="spacingAndGlyphs">10</text>
<text x="63.10" y="250.50" font-size="5.4">3</text>
<text x="67.40" y="253.60" font-size="7.9" textLength="8.40" lengthAdjust="spacingAndGlyphs">10</text>
<text x="76.00" y="250.50" font-size="5.4">4</text>
<text x="80.40" y="253.60" font-size="7.9" textLength="8.50" lengthAdjust="spacingAndGlyphs">10</text>
<text x="89.10" y="250.50" font-size="5.4">5</text>
<text x="0" y="0" font-size="8.10" textLength="19.33" lengthAdjust="spacingAndGlyphs" transform="translate(41.20,263.70) scale(0.926,1)" >GFP<tspan font-size="4.75" dy="-2.59">+</tspan></text>
<line x1="62.50" y1="261.30" x2="143.80" y2="261.30" stroke="#231f20" stroke-width="1.05" />
<path d="M146.80,261.30 L141.80,259.60 L141.80,263.00 Z" fill="#231f20"/>
<circle cx="175.2" cy="169.0" r="1.9" fill="#c8192f"/>
<rect x="173.50" y="175.40" width="3.60" height="3.60" fill="#0d4f8b" />
<text x="0" y="0" font-size="7.20" textLength="33.00" lengthAdjust="spacingAndGlyphs" transform="translate(181.00,171.20)" >B-All (WT)</text>
<text x="0" y="0" font-size="7.20" textLength="40.70" lengthAdjust="spacingAndGlyphs" transform="translate(181.00,178.90)" >B-ALL (BKO)</text>
<line x1="186.50" y1="190.20" x2="186.50" y2="252.30" stroke="#231f20" stroke-width="1.2" />
<line x1="186.50" y1="252.30" x2="221.40" y2="252.30" stroke="#231f20" stroke-width="1.2" />
<line x1="183.40" y1="190.20" x2="186.50" y2="190.20" stroke="#231f20" stroke-width="0.9" />
<text x="0" y="0" font-size="8.21" text-anchor="end" transform="translate(182.40,192.80) scale(0.926,1)" >60</text>
<line x1="183.40" y1="210.80" x2="186.50" y2="210.80" stroke="#231f20" stroke-width="0.9" />
<text x="0" y="0" font-size="8.21" text-anchor="end" transform="translate(182.40,213.40) scale(0.926,1)" >40</text>
<line x1="183.40" y1="231.60" x2="186.50" y2="231.60" stroke="#231f20" stroke-width="0.9" />
<text x="0" y="0" font-size="8.21" text-anchor="end" transform="translate(182.40,234.20) scale(0.926,1)" >30</text>
<line x1="183.40" y1="252.30" x2="186.50" y2="252.30" stroke="#231f20" stroke-width="0.9" />
<text x="0" y="0" font-size="8.21" text-anchor="end" transform="translate(182.40,254.90) scale(0.926,1)" >0</text>
<line x1="195.50" y1="252.30" x2="195.50" y2="255.20" stroke="#231f20" stroke-width="0.9" />
<line x1="212.60" y1="252.30" x2="212.60" y2="255.20" stroke="#231f20" stroke-width="0.9" />
<text x="0" y="0" font-size="9.02" text-anchor="middle" textLength="42.02" lengthAdjust="spacingAndGlyphs" fill="#333" transform="translate(165.00,223.10) rotate(-90) scale(0.909,1)" style="stroke-width:0">Ki67+ (%)</text>
<line x1="195.50" y1="195.90" x2="195.50" y2="216.00" stroke="#c8192f" stroke-width="0.9" />
<line x1="193.50" y1="195.90" x2="197.50" y2="195.90" stroke="#c8192f" stroke-width="0.9" />
<line x1="193.50" y1="216.00" x2="197.50" y2="216.00" stroke="#c8192f" stroke-width="0.9" />
<circle cx="192.70" cy="195.60" r="1.5" fill="#c8192f"/>
<circle cx="197.60" cy="195.60" r="1.5" fill="#c8192f"/>
<circle cx="195.50" cy="204.30" r="1.5" fill="#c8192f"/>
<circle cx="193.00" cy="210.80" r="1.5" fill="#c8192f"/>
<circle cx="197.30" cy="212.60" r="1.5" fill="#c8192f"/>
<circle cx="195.50" cy="219.80" r="1.5" fill="#c8192f"/>
<line x1="190.90" y1="206.40" x2="199.80" y2="206.40" stroke="#231f20" stroke-width="1.1" />
<line x1="212.30" y1="218.40" x2="212.30" y2="232.50" stroke="#0d4f8b" stroke-width="0.9" />
<line x1="210.30" y1="218.40" x2="214.30" y2="218.40" stroke="#0d4f8b" stroke-width="0.9" />
<line x1="210.30" y1="232.50" x2="214.30" y2="232.50" stroke="#0d4f8b" stroke-width="0.9" />
<rect x="210.80" y="216.90" width="3.00" height="3.00" fill="#0d4f8b" />
<rect x="208.30" y="221.20" width="3.00" height="3.00" fill="#0d4f8b" />
<rect x="213.30" y="222.40" width="3.00" height="3.00" fill="#0d4f8b" />
<rect x="209.10" y="226.50" width="3.00" height="3.00" fill="#0d4f8b" />
<rect x="211.60" y="231.00" width="3.00" height="3.00" fill="#0d4f8b" />
<rect x="211.10" y="224.00" width="3.00" height="3.00" fill="#0d4f8b" />
<line x1="208.00" y1="224.70" x2="216.40" y2="224.70" stroke="#231f20" stroke-width="1.1" />
<line x1="194.00" y1="189.90" x2="213.90" y2="189.90" stroke="#231f20" stroke-width="1.0" />
<text x="0" y="0" font-size="8.50" text-anchor="middle" transform="translate(203.50,190.00)" >**</text>
<text x="0" y="0" font-size="11.40" font-weight="bold" transform="translate(252.90,173.70)" stroke="#231f20" stroke-width="0.35">E</text>
<line x1="289.00" y1="170.30" x2="301.70" y2="170.30" stroke="#c8192f" stroke-width="1.2" />
<line x1="289.00" y1="179.00" x2="301.70" y2="179.00" stroke="#0d4f8b" stroke-width="1.3" stroke-dasharray="2,1.25"/>
<line x1="289.00" y1="188.00" x2="301.70" y2="188.00" stroke="#3cb44a" stroke-width="1.2" />
<text x="0" y="0" font-size="7.20" textLength="11.20" lengthAdjust="spacingAndGlyphs" transform="translate(304.80,173.30)" >WT</text>
<text x="0" y="0" font-size="7.78" textLength="37.37" lengthAdjust="spacingAndGlyphs" font-style="italic" transform="translate(304.80,182.20) scale(0.926,1)" >Dyrk1a<tspan font-size="4.75" dy="-3.02" font-style="normal">BKO</tspan></text>
<text x="0" y="0" font-size="7.78" textLength="82.62" lengthAdjust="spacingAndGlyphs" font-style="italic" transform="translate(304.80,191.20) scale(0.926,1)" >Map3k14<tspan font-size="4.75" dy="-3.02" font-style="normal">Btg</tspan><tspan dy="3.02"> Dyrk1a</tspan><tspan font-size="4.75" dy="-3.02" font-style="normal">BKO</tspan></text>
<path d="M281.30,178.50 H277.40 V190.50 H281.30" stroke="#231f20" stroke-width="0.9" fill="none" />
<circle cx="273.10" cy="182.65" r="1.1" fill="#231f20"/>
<circle cx="273.10" cy="186.35" r="1.1" fill="#231f20"/>
<line x1="296.90" y1="203.50" x2="296.90" y2="277.20" stroke="#4a4a4a" stroke-width="1.4" />
<line x1="296.20" y1="276.60" x2="411.90" y2="276.60" stroke="#4a4a4a" stroke-width="1.4" />
<line x1="293.90" y1="204.20" x2="296.90" y2="204.20" stroke="#4a4a4a" stroke-width="0.9" />
<text x="0" y="0" font-size="8.21" text-anchor="end" transform="translate(290.60,206.80) scale(0.926,1)" >1</text>
<line x1="293.90" y1="218.68" x2="296.90" y2="218.68" stroke="#4a4a4a" stroke-width="0.9" />
<text x="0" y="0" font-size="8.21" text-anchor="end" transform="translate(290.60,221.28) scale(0.926,1)" >0.8</text>
<line x1="293.90" y1="233.16" x2="296.90" y2="233.16" stroke="#4a4a4a" stroke-width="0.9" />
<text x="0" y="0" font-size="8.21" text-anchor="end" transform="translate(290.60,235.76) scale(0.926,1)" >0.6</text>
<line x1="293.90" y1="247.64" x2="296.90" y2="247.64" stroke="#4a4a4a" stroke-width="0.9" />
<text x="0" y="0" font-size="8.21" text-anchor="end" transform="translate(290.60,250.24) scale(0.926,1)" >0.4</text>
<line x1="293.90" y1="262.12" x2="296.90" y2="262.12" stroke="#4a4a4a" stroke-width="0.9" />
<text x="0" y="0" font-size="8.21" text-anchor="end" transform="translate(290.60,264.72) scale(0.926,1)" >0.2</text>
<line x1="293.90" y1="276.60" x2="296.90" y2="276.60" stroke="#4a4a4a" stroke-width="0.9" />
<text x="0" y="0" font-size="8.21" text-anchor="end" transform="translate(290.60,279.20) scale(0.926,1)" >0</text>
<line x1="296.90" y1="276.60" x2="296.90" y2="279.30" stroke="#4a4a4a" stroke-width="0.9" />
<text x="0" y="0" font-size="8.21" text-anchor="middle" transform="translate(296.90,288.90) scale(0.926,1)" >0</text>
<line x1="324.03" y1="276.60" x2="324.03" y2="279.30" stroke="#4a4a4a" stroke-width="0.9" />
<text x="0" y="0" font-size="8.21" text-anchor="middle" transform="translate(324.03,288.90) scale(0.926,1)" >20</text>
<line x1="351.16" y1="276.60" x2="351.16" y2="279.30" stroke="#4a4a4a" stroke-width="0.9" />
<text x="0" y="0" font-size="8.21" text-anchor="middle" transform="translate(351.16,288.90) scale(0.926,1)" >40</text>
<line x1="378.29" y1="276.60" x2="378.29" y2="279.30" stroke="#4a4a4a" stroke-width="0.9" />
<text x="0" y="0" font-size="8.21" text-anchor="middle" transform="translate(378.29,288.90) scale(0.926,1)" >60</text>
<line x1="405.42" y1="276.60" x2="405.42" y2="279.30" stroke="#4a4a4a" stroke-width="0.9" />
<text x="0" y="0" font-size="8.21" text-anchor="middle" transform="translate(405.42,288.90) scale(0.926,1)" >80</text>
<text x="0" y="0" font-size="9.12" textLength="100.44" lengthAdjust="spacingAndGlyphs" transform="translate(312.60,301.40) scale(0.833,1)" >Days post-transplantation</text>
<text x="0" y="0" font-size="8.97" text-anchor="middle" textLength="75.28" lengthAdjust="spacingAndGlyphs" transform="translate(271.80,240.40) rotate(-90) scale(0.847,1)" >Survival probability</text>
<text x="0" y="0" font-size="7.00" textLength="39.60" lengthAdjust="spacingAndGlyphs" transform="translate(301.80,271.00)" >n = 8/group</text>
<path d="M297.6,204.3 H340.6 V212.2 H346.2 V228.7 H351.5 V244.7 H357.4 V252.4 H362.4 V261.5 H368 V268.8 H389.8 V276.6" stroke="#3cb44a" stroke-width="0" fill="none" />
<path d="M297.6,204.3 H335 V213.1 H340.6 V222.4 H351.5 V231.7 H357.4 V249.9 H362.4 V267.7 H373.5 V276.6" stroke="#3cb44a" stroke-width="1.3" fill="none" />
<path d="M340.6,204.3 H357.4 V213.1 H362.4 V222.4 H373.1 V231.7 H384.2 V240.3 H400.4 V249.5 H407.4" stroke="#0d4f8b" stroke-width="1.5" fill="none" stroke-dasharray="2.3,1.5"/>
<path d="M297.6,204.3 H340.6 V212.2 H346.2 V228.7 H351.5 V244.7 H357.4 V252.4 H362.4 V261.5 H368 V268.8 H389.8 V276.6" stroke="#c8192f" stroke-width="1.45" fill="none" />
<line x1="324.20" y1="202.80" x2="324.20" y2="205.60" stroke="#c8192f" stroke-width="0.8" />
<text x="0" y="0" font-size="11.40" font-weight="bold" transform="translate(7.50,322.00)" stroke="#231f20" stroke-width="0.35">F</text>
<line x1="43.10" y1="319.90" x2="55.20" y2="319.90" stroke="#c8192f" stroke-width="1.2" />
<line x1="43.10" y1="330.30" x2="55.20" y2="330.30" stroke="#0d4f8b" stroke-width="1.3" stroke-dasharray="2,1.25"/>
<line x1="43.10" y1="338.40" x2="55.20" y2="338.40" stroke="#3cb44a" stroke-width="1.2" />
<text x="0" y="0" font-size="7.20" textLength="11.20" lengthAdjust="spacingAndGlyphs" transform="translate(58.70,322.90)" >WT</text>
<text x="0" y="0" font-size="7.78" textLength="37.37" lengthAdjust="spacingAndGlyphs" font-style="italic" transform="translate(58.70,333.50) scale(0.926,1)" >Dyrk1a<tspan font-size="4.75" dy="-3.02" font-style="normal">BKO</tspan></text>
<text x="0" y="0" font-size="7.78" textLength="82.62" lengthAdjust="spacingAndGlyphs" font-style="italic" transform="translate(58.70,341.60) scale(0.926,1)" >Map3k14<tspan font-size="4.75" dy="-3.02" font-style="normal">Btg</tspan><tspan dy="3.02"> Dyrk1a</tspan><tspan font-size="4.75" dy="-3.02" font-style="normal">BKO</tspan></text>
<path d="M33.80,325.90 H29.90 V339.50 H33.80" stroke="#231f20" stroke-width="0.9" fill="none" />
<circle cx="26.90" cy="329.00" r="1.1" fill="#231f20"/>
<circle cx="26.90" cy="332.70" r="1.1" fill="#231f20"/>
<circle cx="26.90" cy="336.40" r="1.1" fill="#231f20"/>
<line x1="51.20" y1="351.00" x2="51.20" y2="423.50" stroke="#4a4a4a" stroke-width="1.4" />
<line x1="50.50" y1="422.90" x2="164.00" y2="422.90" stroke="#4a4a4a" stroke-width="1.4" />
<line x1="48.20" y1="351.60" x2="51.20" y2="351.60" stroke="#4a4a4a" stroke-width="0.9" />
<text x="0" y="0" font-size="8.21" text-anchor="end" transform="translate(45.00,354.20) scale(0.926,1)" >1</text>
<line x1="48.20" y1="365.86" x2="51.20" y2="365.86" stroke="#4a4a4a" stroke-width="0.9" />
<text x="0" y="0" font-size="8.21" text-anchor="end" transform="translate(45.00,368.46) scale(0.926,1)" >0.8</text>
<line x1="48.20" y1="380.12" x2="51.20" y2="380.12" stroke="#4a4a4a" stroke-width="0.9" />
<text x="0" y="0" font-size="8.21" text-anchor="end" transform="translate(45.00,382.72) scale(0.926,1)" >0.6</text>
<line x1="48.20" y1="394.38" x2="51.20" y2="394.38" stroke="#4a4a4a" stroke-width="0.9" />
<text x="0" y="0" font-size="8.21" text-anchor="end" transform="translate(45.00,396.98) scale(0.926,1)" >0.4</text>
<line x1="48.20" y1="408.64" x2="51.20" y2="408.64" stroke="#4a4a4a" stroke-width="0.9" />
<text x="0" y="0" font-size="8.21" text-anchor="end" transform="translate(45.00,411.24) scale(0.926,1)" >0.2</text>
<line x1="48.20" y1="422.90" x2="51.20" y2="422.90" stroke="#4a4a4a" stroke-width="0.9" />
<text x="0" y="0" font-size="8.21" text-anchor="end" transform="translate(45.00,425.50) scale(0.926,1)" >0</text>
<line x1="51.20" y1="422.90" x2="51.20" y2="425.60" stroke="#4a4a4a" stroke-width="0.9" />
<text x="0" y="0" font-size="8.21" text-anchor="middle" transform="translate(51.20,435.60) scale(0.926,1)" >0</text>
<line x1="88.80" y1="422.90" x2="88.80" y2="425.60" stroke="#4a4a4a" stroke-width="0.9" />
<text x="0" y="0" font-size="8.21" text-anchor="middle" transform="translate(88.80,435.60) scale(0.926,1)" >10</text>
<line x1="126.40" y1="422.90" x2="126.40" y2="425.60" stroke="#4a4a4a" stroke-width="0.9" />
<text x="0" y="0" font-size="8.21" text-anchor="middle" transform="translate(126.40,435.60) scale(0.926,1)" >20</text>
<line x1="164.00" y1="422.90" x2="164.00" y2="425.60" stroke="#4a4a4a" stroke-width="0.9" />
<text x="0" y="0" font-size="8.21" text-anchor="middle" transform="translate(164.00,435.60) scale(0.926,1)" >30</text>
<text x="0" y="0" font-size="9.12" textLength="100.80" lengthAdjust="spacingAndGlyphs" transform="translate(65.90,448.50) scale(0.833,1)" >Days post-transplantation</text>
<text x="0" y="0" font-size="8.97" text-anchor="middle" textLength="74.81" lengthAdjust="spacingAndGlyphs" transform="translate(26.30,387.70) rotate(-90) scale(0.847,1)" >Survival probability</text>
<text x="0" y="0" font-size="7.00" textLength="39.40" lengthAdjust="spacingAndGlyphs" transform="translate(56.30,417.00)" >n = 6/group</text>
<path d="M51.9,351.6 H96.3 V358.3 H103.8 V384.8 H111.4 V422.9" stroke="#3cb44a" stroke-width="1.3" fill="none" />
<path d="M103.8,351.6 H118.9 V364.3 H141.4 V387.7 H149 V422.9" stroke="#0d4f8b" stroke-width="1.5" fill="none" stroke-dasharray="2.3,1.5"/>
<path d="M51.9,351.6 H103.8 V375.9 H111.4 V411.9 H118.9 V422.9" stroke="#c8192f" stroke-width="1.45" fill="none" />
<text x="0" y="0" font-size="11.40" font-weight="bold" transform="translate(253.20,322.10)" stroke="#231f20" stroke-width="0.35">G</text>
<line x1="287.20" y1="320.30" x2="300.60" y2="320.30" stroke="#c8192f" stroke-width="1.2" />
<line x1="287.20" y1="329.60" x2="300.60" y2="329.60" stroke="#0d4f8b" stroke-width="1.3" stroke-dasharray="2,1.25"/>
<line x1="287.20" y1="337.90" x2="300.60" y2="337.90" stroke="#3cb44a" stroke-width="1.2" />
<circle cx="293.90" cy="320.30" r="1.8" fill="#c8192f"/>
<circle cx="293.90" cy="329.60" r="1.8" fill="#0d4f8b"/>
<path d="M291.90,336.60 L295.90,336.60 L293.90,339.80Z" fill="#3cb44a"/>
<text x="0" y="0" font-size="7.20" textLength="11.20" lengthAdjust="spacingAndGlyphs" transform="translate(305.20,323.30)" >WT</text>
<text x="0" y="0" font-size="7.78" textLength="37.37" lengthAdjust="spacingAndGlyphs" font-style="italic" transform="translate(305.20,332.80) scale(0.926,1)" >Dyrk1a<tspan font-size="4.75" dy="-3.02" font-style="normal">BKO</tspan></text>
<text x="0" y="0" font-size="7.78" textLength="82.62" lengthAdjust="spacingAndGlyphs" font-style="italic" transform="translate(305.20,341.10) scale(0.926,1)" >Map3k14<tspan font-size="4.75" dy="-3.02" font-style="normal">Btg</tspan><tspan dy="3.02"> Dyrk1a</tspan><tspan font-size="4.75" dy="-3.02" font-style="normal">BKO</tspan></text>
<path d="M282.70,327.90 H278.80 V339.40 H282.70" stroke="#231f20" stroke-width="0.9" fill="none" />
<circle cx="274.60" cy="329.95" r="1.1" fill="#231f20"/>
<circle cx="274.60" cy="333.65" r="1.1" fill="#231f20"/>
<circle cx="274.60" cy="337.35" r="1.1" fill="#231f20"/>
<line x1="296.70" y1="351.20" x2="296.70" y2="423.70" stroke="#4a4a4a" stroke-width="1.4" />
<line x1="296.00" y1="423.00" x2="403.80" y2="423.00" stroke="#4a4a4a" stroke-width="1.4" />
<line x1="293.70" y1="351.70" x2="296.70" y2="351.70" stroke="#4a4a4a" stroke-width="0.9" />
<text x="0" y="0" font-size="8.21" text-anchor="end" transform="translate(291.30,354.30) scale(0.926,1)" >100</text>
<line x1="293.70" y1="365.98" x2="296.70" y2="365.98" stroke="#4a4a4a" stroke-width="0.9" />
<text x="0" y="0" font-size="8.21" text-anchor="end" transform="translate(291.30,368.58) scale(0.926,1)" >80</text>
<line x1="293.70" y1="380.26" x2="296.70" y2="380.26" stroke="#4a4a4a" stroke-width="0.9" />
<text x="0" y="0" font-size="8.21" text-anchor="end" transform="translate(291.30,382.86) scale(0.926,1)" >60</text>
<line x1="293.70" y1="394.54" x2="296.70" y2="394.54" stroke="#4a4a4a" stroke-width="0.9" />
<text x="0" y="0" font-size="8.21" text-anchor="end" transform="translate(291.30,397.14) scale(0.926,1)" >40</text>
<line x1="293.70" y1="408.82" x2="296.70" y2="408.82" stroke="#4a4a4a" stroke-width="0.9" />
<text x="0" y="0" font-size="8.21" text-anchor="end" transform="translate(291.30,411.42) scale(0.926,1)" >20</text>
<line x1="293.70" y1="423.10" x2="296.70" y2="423.10" stroke="#4a4a4a" stroke-width="0.9" />
<text x="0" y="0" font-size="8.21" text-anchor="end" transform="translate(291.30,425.70) scale(0.926,1)" >0</text>
<line x1="314.80" y1="423.10" x2="314.80" y2="425.80" stroke="#4a4a4a" stroke-width="0.9" />
<text x="0" y="0" font-size="8.21" text-anchor="middle" transform="translate(314.80,435.10) scale(0.926,1)" >6</text>
<line x1="350.11" y1="423.10" x2="350.11" y2="425.80" stroke="#4a4a4a" stroke-width="0.9" />
<text x="0" y="0" font-size="8.21" text-anchor="middle" transform="translate(350.11,435.10) scale(0.926,1)" >9</text>
<line x1="385.42" y1="423.10" x2="385.42" y2="425.80" stroke="#4a4a4a" stroke-width="0.9" />
<text x="0" y="0" font-size="8.21" text-anchor="middle" transform="translate(385.42,435.10) scale(0.926,1)" >12</text>
<text x="0" y="0" font-size="9.12" textLength="100.20" lengthAdjust="spacingAndGlyphs" transform="translate(308.50,447.80) scale(0.833,1)" >Days post-transplantation</text>
<text x="0" y="0" font-size="8.97" text-anchor="middle" textLength="66.67" lengthAdjust="spacingAndGlyphs" transform="translate(263.90,387.00) rotate(-90) scale(0.847,1)" >% Leukemic cells</text>
<text x="0" y="0" font-size="8.97" text-anchor="middle" textLength="29.50" lengthAdjust="spacingAndGlyphs" transform="translate(274.20,387.10) rotate(-90) scale(0.847,1)" >(GFP+)</text>
<text x="0" y="0" font-size="7.00" textLength="39.60" lengthAdjust="spacingAndGlyphs" transform="translate(302.10,366.00)" >n = 6/group</text>
<line x1="350.11" y1="382.30" x2="350.11" y2="395.40" stroke="#c8192f" stroke-width="1.0" />
<line x1="348.21" y1="382.30" x2="352.01" y2="382.30" stroke="#c8192f" stroke-width="1.0" />
<line x1="348.21" y1="395.40" x2="352.01" y2="395.40" stroke="#c8192f" stroke-width="1.0" />
<line x1="385.42" y1="368.00" x2="385.42" y2="377.20" stroke="#c8192f" stroke-width="1.0" />
<line x1="383.52" y1="368.00" x2="387.32" y2="368.00" stroke="#c8192f" stroke-width="1.0" />
<line x1="383.52" y1="377.20" x2="387.32" y2="377.20" stroke="#c8192f" stroke-width="1.0" />
<line x1="350.11" y1="405.80" x2="350.11" y2="413.10" stroke="#0d4f8b" stroke-width="1.0" />
<line x1="348.21" y1="405.80" x2="352.01" y2="405.80" stroke="#0d4f8b" stroke-width="1.0" />
<line x1="348.21" y1="413.10" x2="352.01" y2="413.10" stroke="#0d4f8b" stroke-width="1.0" />
<line x1="385.42" y1="399.70" x2="385.42" y2="409.20" stroke="#0d4f8b" stroke-width="1.0" />
<line x1="383.52" y1="399.70" x2="387.32" y2="399.70" stroke="#0d4f8b" stroke-width="1.0" />
<line x1="383.52" y1="409.20" x2="387.32" y2="409.20" stroke="#0d4f8b" stroke-width="1.0" />
<path d="M314.80,418.10 L350.11,409.5 L385.42,404.6" stroke="#0d4f8b" stroke-width="1.5" fill="none" stroke-dasharray="3,1.8"/>
<path d="M314.80,418.10 L350.11,392.6 L385.42,373.0" stroke="#3cb44a" stroke-width="1.4" fill="none" />
<path d="M314.80,418.10 L350.11,388.5 L385.42,372.6" stroke="#c8192f" stroke-width="1.6" fill="none" />
<circle cx="350.11" cy="409.50" r="1.8" fill="#0d4f8b"/>
<circle cx="385.42" cy="404.60" r="1.8" fill="#0d4f8b"/>
<circle cx="314.80" cy="418.10" r="1.7" fill="#c8192f"/>
<circle cx="350.11" cy="388.50" r="1.7" fill="#c8192f"/>
<circle cx="385.42" cy="372.60" r="1.7" fill="#c8192f"/>
<text x="0" y="0" font-size="11.40" font-weight="bold" transform="translate(8.60,476.80)" stroke="#231f20" stroke-width="0.35">H</text>
<text x="0" y="0" font-size="7.60" textLength="15.00" lengthAdjust="spacingAndGlyphs" font-style="italic" transform="translate(51.90,476.90)" >Bcl2</text>
<line x1="30.50" y1="571.20" x2="33.50" y2="571.20" stroke="#4a4a4a" stroke-width="1.0" />
<text x="0" y="0" font-size="8.21" text-anchor="end" transform="translate(27.30,573.80) scale(0.926,1)" >0</text>
<line x1="30.50" y1="550.30" x2="33.50" y2="550.30" stroke="#4a4a4a" stroke-width="1.0" />
<text x="0" y="0" font-size="8.21" text-anchor="end" transform="translate(27.30,552.90) scale(0.926,1)" >1</text>
<line x1="30.50" y1="529.40" x2="33.50" y2="529.40" stroke="#4a4a4a" stroke-width="1.0" />
<text x="0" y="0" font-size="8.21" text-anchor="end" transform="translate(27.30,532.00) scale(0.926,1)" >2</text>
<line x1="30.50" y1="508.50" x2="33.50" y2="508.50" stroke="#4a4a4a" stroke-width="1.0" />
<text x="0" y="0" font-size="8.21" text-anchor="end" transform="translate(27.30,511.10) scale(0.926,1)" >3</text>
<line x1="30.50" y1="487.60" x2="33.50" y2="487.60" stroke="#4a4a4a" stroke-width="1.0" />
<text x="0" y="0" font-size="8.21" text-anchor="end" transform="translate(27.30,490.20) scale(0.926,1)" >4</text>
<rect x="37.90" y="546.33" width="8.80" height="24.87" fill="#c8192f" />
<line x1="42.30" y1="546.33" x2="42.30" y2="542.36" stroke="#4a4a4a" stroke-width="1.0" />
<line x1="40.10" y1="542.36" x2="44.50" y2="542.36" stroke="#4a4a4a" stroke-width="1.0" />
<rect x="55.00" y="504.32" width="9.00" height="66.88" fill="#0d4f8b" />
<line x1="59.50" y1="504.32" x2="59.50" y2="498.47" stroke="#4a4a4a" stroke-width="1.0" />
<line x1="57.30" y1="498.47" x2="61.70" y2="498.47" stroke="#4a4a4a" stroke-width="1.0" />
<rect x="72.20" y="539.85" width="8.80" height="31.35" fill="#3cb44a" />
<line x1="76.60" y1="539.85" x2="76.60" y2="535.46" stroke="#4a4a4a" stroke-width="1.0" />
<line x1="74.40" y1="535.46" x2="78.80" y2="535.46" stroke="#4a4a4a" stroke-width="1.0" />
<line x1="33.50" y1="487.00" x2="33.50" y2="571.80" stroke="#4a4a4a" stroke-width="1.3" />
<line x1="32.90" y1="571.20" x2="85.30" y2="571.20" stroke="#4a4a4a" stroke-width="1.3" />
<line x1="42.30" y1="571.20" x2="42.30" y2="573.70" stroke="#4a4a4a" stroke-width="1.0" />
<line x1="59.50" y1="571.20" x2="59.50" y2="573.70" stroke="#4a4a4a" stroke-width="1.0" />
<line x1="76.60" y1="571.20" x2="76.60" y2="573.70" stroke="#4a4a4a" stroke-width="1.0" />
<path d="M59.40,493.50 V488.00 H80.30 V493.50" stroke="#4a4a4a" stroke-width="1.0" fill="none" />
<text x="0" y="0" font-size="8.00" text-anchor="middle" transform="translate(69.85,488.00)" >***</text>
<text x="0" y="0" font-size="9.09" text-anchor="middle" textLength="47.20" lengthAdjust="spacingAndGlyphs" transform="translate(14.80,528.80) rotate(-90) scale(0.847,1)" >Fold change</text>
<text x="0" y="0" font-size="8.21" text-anchor="middle" textLength="15.66" lengthAdjust="spacingAndGlyphs" transform="translate(42.30,582.80) scale(0.926,1)" >Con</text>
<text x="0" y="0" font-size="8.21" text-anchor="middle" textLength="12.31" lengthAdjust="spacingAndGlyphs" transform="translate(59.50,582.80) scale(0.926,1)" >WT</text>
<text x="0" y="0" font-size="8.21" text-anchor="middle" textLength="12.31" lengthAdjust="spacingAndGlyphs" transform="translate(76.90,582.80) scale(0.926,1)" >KO</text>
<line x1="55.50" y1="586.70" x2="81.10" y2="586.70" stroke="#4a4a4a" stroke-width="1.2" />
<text x="0" y="0" font-size="8.21" text-anchor="middle" textLength="22.36" lengthAdjust="spacingAndGlyphs" transform="translate(68.05,596.20) scale(0.926,1)" >B-ALL</text>
<text x="0" y="0" font-size="7.60" textLength="19.80" lengthAdjust="spacingAndGlyphs" font-style="italic" transform="translate(146.10,476.90)" >Bcl2l1</text>
<line x1="126.50" y1="571.20" x2="129.50" y2="571.20" stroke="#4a4a4a" stroke-width="1.0" />
<text x="0" y="0" font-size="8.21" text-anchor="end" transform="translate(123.60,573.80) scale(0.926,1)" >0</text>
<line x1="126.50" y1="550.30" x2="129.50" y2="550.30" stroke="#4a4a4a" stroke-width="1.0" />
<text x="0" y="0" font-size="8.21" text-anchor="end" transform="translate(123.60,552.90) scale(0.926,1)" >1</text>
<line x1="126.50" y1="529.40" x2="129.50" y2="529.40" stroke="#4a4a4a" stroke-width="1.0" />
<text x="0" y="0" font-size="8.21" text-anchor="end" transform="translate(123.60,532.00) scale(0.926,1)" >2</text>
<line x1="126.50" y1="508.50" x2="129.50" y2="508.50" stroke="#4a4a4a" stroke-width="1.0" />
<text x="0" y="0" font-size="8.21" text-anchor="end" transform="translate(123.60,511.10) scale(0.926,1)" >3</text>
<line x1="126.50" y1="487.60" x2="129.50" y2="487.60" stroke="#4a4a4a" stroke-width="1.0" />
<text x="0" y="0" font-size="8.21" text-anchor="end" transform="translate(123.60,490.20) scale(0.926,1)" >4</text>
<rect x="134.90" y="546.12" width="8.70" height="25.08" fill="#c8192f" />
<line x1="139.25" y1="546.12" x2="139.25" y2="542.36" stroke="#4a4a4a" stroke-width="1.0" />
<line x1="137.05" y1="542.36" x2="141.45" y2="542.36" stroke="#4a4a4a" stroke-width="1.0" />
<rect x="152.20" y="518.95" width="8.70" height="52.25" fill="#0d4f8b" />
<line x1="156.55" y1="518.95" x2="156.55" y2="508.50" stroke="#4a4a4a" stroke-width="1.0" />
<line x1="154.35" y1="508.50" x2="158.75" y2="508.50" stroke="#4a4a4a" stroke-width="1.0" />
<rect x="169.50" y="534.62" width="8.70" height="36.57" fill="#3cb44a" />
<line x1="173.85" y1="534.62" x2="173.85" y2="529.40" stroke="#4a4a4a" stroke-width="1.0" />
<line x1="171.65" y1="529.40" x2="176.05" y2="529.40" stroke="#4a4a4a" stroke-width="1.0" />
<line x1="129.50" y1="487.00" x2="129.50" y2="571.80" stroke="#4a4a4a" stroke-width="1.3" />
<line x1="128.90" y1="571.20" x2="182.40" y2="571.20" stroke="#4a4a4a" stroke-width="1.3" />
<line x1="139.25" y1="571.20" x2="139.25" y2="573.70" stroke="#4a4a4a" stroke-width="1.0" />
<line x1="156.55" y1="571.20" x2="156.55" y2="573.70" stroke="#4a4a4a" stroke-width="1.0" />
<line x1="173.85" y1="571.20" x2="173.85" y2="573.70" stroke="#4a4a4a" stroke-width="1.0" />
<path d="M156.50,505.30 V499.90 H177.50 V505.30" stroke="#4a4a4a" stroke-width="1.0" fill="none" />
<text x="0" y="0" font-size="8.00" text-anchor="middle" transform="translate(167.00,499.90)" >*</text>
<text x="0" y="0" font-size="9.09" text-anchor="middle" textLength="47.20" lengthAdjust="spacingAndGlyphs" transform="translate(112.00,528.80) rotate(-90) scale(0.847,1)" >Fold change</text>
<text x="0" y="0" font-size="8.21" text-anchor="middle" textLength="15.66" lengthAdjust="spacingAndGlyphs" transform="translate(139.25,582.80) scale(0.926,1)" >Con</text>
<text x="0" y="0" font-size="8.21" text-anchor="middle" textLength="12.31" lengthAdjust="spacingAndGlyphs" transform="translate(156.55,582.80) scale(0.926,1)" >WT</text>
<text x="0" y="0" font-size="8.21" text-anchor="middle" textLength="12.31" lengthAdjust="spacingAndGlyphs" transform="translate(174.15,582.80) scale(0.926,1)" >KO</text>
<line x1="152.55" y1="586.70" x2="178.35" y2="586.70" stroke="#4a4a4a" stroke-width="1.2" />
<text x="0" y="0" font-size="8.21" text-anchor="middle" textLength="22.36" lengthAdjust="spacingAndGlyphs" transform="translate(165.20,596.20) scale(0.926,1)" >B-ALL</text>
<text x="0" y="0" font-size="11.40" font-weight="bold" transform="translate(230.80,477.00)" stroke="#231f20" stroke-width="0.35">I</text>
<text x="0" y="0" font-size="7.98" textLength="21.63" lengthAdjust="spacingAndGlyphs" transform="translate(266.90,489.20) scale(0.952,1)" >B-ALL</text>
<line x1="263.50" y1="491.30" x2="291.30" y2="491.30" stroke="#231f20" stroke-width="1.2" />
<text x="0" y="0" font-size="8.21" textLength="15.34" lengthAdjust="spacingAndGlyphs" transform="translate(243.80,499.30) scale(0.926,1)" >Con</text>
<text x="0" y="0" font-size="8.21" textLength="27.00" lengthAdjust="spacingAndGlyphs" transform="translate(264.40,499.30) scale(0.926,1)" >WT KO</text>
<rect x="244.40" y="504.40" width="46.40" height="15.50" fill="#6a6a6c" />
<rect x="244.80" y="504.80" width="45.60" height="14.70" fill="none" stroke="#5c5c5e" stroke-width="0.8" />
<rect x="246.90" y="511.70" width="11.60" height="3.00" rx="1.50" fill="#4a4a4a" opacity="0.95" filter="url(#bl2)"/>
<rect x="261.00" y="509.00" width="13.60" height="7.60" rx="3.00" fill="#2e2e2e" opacity="1.0" filter="url(#bl2)"/>
<rect x="276.50" y="511.20" width="10.80" height="4.00" rx="2.00" fill="#383838" opacity="1.0" filter="url(#bl2)"/>
<rect x="244.40" y="520.30" width="46.40" height="15.50" fill="#949496" />
<rect x="244.80" y="520.70" width="45.60" height="14.70" fill="none" stroke="#848486" stroke-width="0.8" />
<rect x="247.00" y="526.80" width="11.00" height="2.40" rx="1.20" fill="#858585" opacity="0.8" filter="url(#bl2)"/>
<rect x="262.00" y="525.40" width="13.60" height="4.80" rx="2.40" fill="#2a2a2a" opacity="1.0" filter="url(#bl)"/>
<rect x="278.10" y="526.50" width="11.10" height="4.00" rx="2.00" fill="#505050" opacity="1.0" filter="url(#bl2)"/>
<rect x="244.40" y="537.60" width="46.40" height="13.20" fill="#868688" />
<rect x="244.80" y="538.00" width="45.60" height="12.40" fill="none" stroke="#78787a" stroke-width="0.8" />
<rect x="245.80" y="541.70" width="12.20" height="3.40" rx="1.70" fill="#2e2e2e" opacity="1.0" filter="url(#bl)"/>
<rect x="261.70" y="541.80" width="10.60" height="3.20" rx="1.60" fill="#303030" opacity="1.0" filter="url(#bl)"/>
<rect x="276.50" y="542.50" width="12.70" height="3.40" rx="1.70" fill="#2e2e2e" opacity="1.0" filter="url(#bl)"/>
<text x="0" y="0" font-size="8.21" textLength="19.22" lengthAdjust="spacingAndGlyphs" transform="translate(294.60,514.10) scale(0.926,1)" >Bcl-2</text>
<text x="0" y="0" font-size="8.21" textLength="23.44" lengthAdjust="spacingAndGlyphs" transform="translate(294.60,530.70) scale(0.926,1)" >Bcl-XL</text>
<text x="0" y="0" font-size="8.21" textLength="23.11" lengthAdjust="spacingAndGlyphs" transform="translate(294.60,546.40) scale(0.926,1)" >Tublin</text>
<text x="0" y="0" font-size="11.40" font-weight="bold" transform="translate(351.20,476.90)" stroke="#231f20" stroke-width="0.35">J</text>
<text x="0" y="0" font-size="8.21" textLength="23.87" lengthAdjust="spacingAndGlyphs" transform="translate(408.50,489.10) scale(0.926,1)" >BALL1</text>
<line x1="385.00" y1="492.00" x2="454.60" y2="492.00" stroke="#231f20" stroke-width="1.3" />
<text x="0" y="0" font-size="8.21" textLength="23.98" lengthAdjust="spacingAndGlyphs" transform="translate(456.50,480.10) scale(0.926,1)" >BALL1</text>
<text x="0" y="0" font-size="8.21" textLength="17.06" lengthAdjust="spacingAndGlyphs" transform="translate(460.00,489.10) scale(0.926,1)" >-NIK</text>
<line x1="460.40" y1="492.00" x2="475.80" y2="492.00" stroke="#231f20" stroke-width="1.3" />
<text x="0" y="0" font-size="8.21" text-anchor="end" textLength="20.09" lengthAdjust="spacingAndGlyphs" transform="translate(376.70,502.60) scale(0.926,1)" >BAFF</text>
<text x="0" y="0" font-size="8.21" text-anchor="end" textLength="34.67" lengthAdjust="spacingAndGlyphs" transform="translate(376.70,518.00) scale(0.926,1)" >EHT1610</text>
<line x1="392.00" y1="500.00" x2="397.20" y2="500.00" stroke="#231f20" stroke-width="0.85" />
<line x1="392.00" y1="515.40" x2="397.20" y2="515.40" stroke="#231f20" stroke-width="0.85" />
<line x1="410.20" y1="500.00" x2="414.40" y2="500.00" stroke="#231f20" stroke-width="0.85" />
<line x1="412.30" y1="497.90" x2="412.30" y2="502.10" stroke="#231f20" stroke-width="0.85" />
<line x1="409.70" y1="515.40" x2="414.90" y2="515.40" stroke="#231f20" stroke-width="0.85" />
<line x1="429.30" y1="500.00" x2="434.50" y2="500.00" stroke="#231f20" stroke-width="0.85" />
<line x1="429.80" y1="515.40" x2="434.00" y2="515.40" stroke="#231f20" stroke-width="0.85" />
<line x1="431.90" y1="513.30" x2="431.90" y2="517.50" stroke="#231f20" stroke-width="0.85" />
<line x1="447.70" y1="500.00" x2="451.90" y2="500.00" stroke="#231f20" stroke-width="0.85" />
<line x1="449.80" y1="497.90" x2="449.80" y2="502.10" stroke="#231f20" stroke-width="0.85" />
<line x1="447.70" y1="515.40" x2="451.90" y2="515.40" stroke="#231f20" stroke-width="0.85" />
<line x1="449.80" y1="513.30" x2="449.80" y2="517.50" stroke="#231f20" stroke-width="0.85" />
<line x1="465.00" y1="500.00" x2="469.20" y2="500.00" stroke="#231f20" stroke-width="0.85" />
<line x1="467.10" y1="497.90" x2="467.10" y2="502.10" stroke="#231f20" stroke-width="0.85" />
<line x1="465.00" y1="515.40" x2="469.20" y2="515.40" stroke="#231f20" stroke-width="0.85" />
<line x1="467.10" y1="513.30" x2="467.10" y2="517.50" stroke="#231f20" stroke-width="0.85" />
<rect x="380.80" y="522.60" width="94.60" height="15.80" fill="#7e7e80" />
<rect x="381.20" y="523.00" width="93.80" height="15.00" fill="none" stroke="#6e6e70" stroke-width="0.8" />
<rect x="385.30" y="529.80" width="14.20" height="2.60" rx="1.30" fill="#5a5a5a" opacity="0.9" filter="url(#bl2)"/>
<rect x="403.80" y="528.50" width="15.70" height="5.20" rx="2.60" fill="#383838" opacity="1.0" filter="url(#bl2)"/>
<rect x="424.20" y="529.70" width="11.50" height="2.80" rx="1.40" fill="#606060" opacity="0.9" filter="url(#bl2)"/>
<rect x="441.30" y="528.90" width="13.40" height="3.80" rx="1.90" fill="#464646" opacity="1.0" filter="url(#bl2)"/>
<rect x="458.60" y="527.50" width="14.20" height="5.60" rx="2.80" fill="#383838" opacity="1.0" filter="url(#bl2)"/>
<rect x="380.80" y="540.70" width="94.60" height="11.80" fill="#848486" />
<rect x="381.20" y="541.10" width="93.80" height="11.00" fill="none" stroke="#747476" stroke-width="0.8" />
<rect x="386.00" y="546.50" width="12.00" height="2.00" rx="1.00" fill="#6a6a6a" opacity="0.7" filter="url(#bl2)"/>
<rect x="403.80" y="545.10" width="15.70" height="4.20" rx="2.10" fill="#3a3a3a" opacity="1.0" filter="url(#bl2)"/>
<rect x="424.20" y="545.90" width="11.50" height="2.60" rx="1.30" fill="#5e5e5e" opacity="0.8" filter="url(#bl2)"/>
<rect x="441.50" y="545.90" width="13.00" height="2.60" rx="1.30" fill="#585858" opacity="0.9" filter="url(#bl2)"/>
<rect x="458.60" y="543.90" width="14.20" height="4.20" rx="2.10" fill="#3a3a3a" opacity="1.0" filter="url(#bl2)"/>
<rect x="380.80" y="554.20" width="94.60" height="15.40" fill="#7a7a7c" />
<rect x="381.20" y="554.60" width="93.80" height="14.60" fill="none" stroke="#6a6a6c" stroke-width="0.8" />
<rect x="383.60" y="559.20" width="14.80" height="6.00" rx="3.00" fill="#464648" opacity="1.0" filter="url(#bl)"/>
<rect x="401.30" y="559.10" width="16.30" height="6.20" rx="3.00" fill="#464648" opacity="1.0" filter="url(#bl)"/>
<rect x="421.10" y="559.30" width="14.40" height="5.80" rx="2.90" fill="#464648" opacity="1.0" filter="url(#bl)"/>
<rect x="439.30" y="559.40" width="13.90" height="5.60" rx="2.80" fill="#464648" opacity="1.0" filter="url(#bl)"/>
<rect x="457.60" y="557.50" width="14.80" height="6.60" rx="3.00" fill="#464648" opacity="1.0" filter="url(#bl)"/>
<text x="0" y="0" font-size="8.21" text-anchor="end" textLength="19.22" lengthAdjust="spacingAndGlyphs" transform="translate(377.30,534.10) scale(0.926,1)" >Bcl-2</text>
<text x="0" y="0" font-size="8.21" text-anchor="end" textLength="23.44" lengthAdjust="spacingAndGlyphs" transform="translate(377.30,548.90) scale(0.926,1)" >Bcl-XL</text>
<text x="0" y="0" font-size="8.21" text-anchor="end" textLength="24.30" lengthAdjust="spacingAndGlyphs" transform="translate(377.30,564.30) scale(0.926,1)" >HSP60</text></svg></body></html>
